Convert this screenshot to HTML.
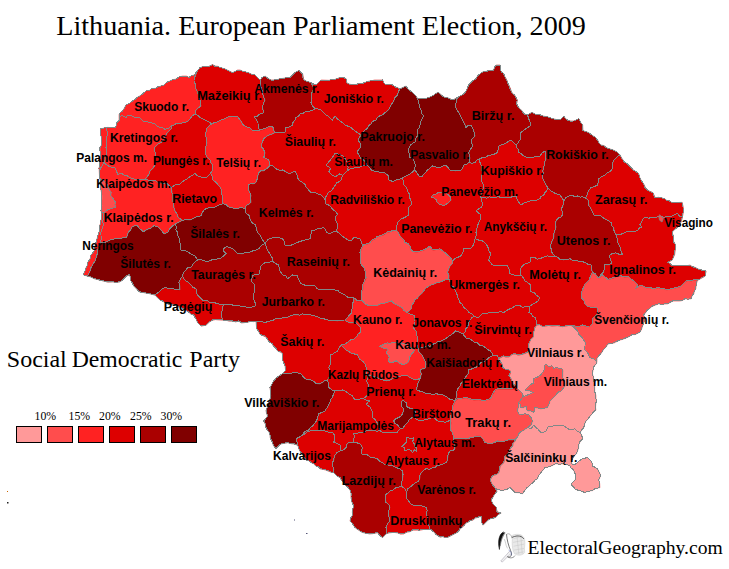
<!DOCTYPE html>
<html><head><meta charset="utf-8"><title>Lithuania. European Parliament Election, 2009</title>
<style>
html,body{margin:0;padding:0;background:#fff;}
body{width:729px;height:569px;overflow:hidden;position:relative;font-family:"Liberation Serif",serif;}
svg{position:absolute;left:0;top:0;}
.lab text{font-family:"Liberation Sans",sans-serif;font-weight:bold;font-size:12.2px;fill:#000;}
.ser{font-family:"Liberation Serif",serif;fill:#000;}
</style></head><body>
<svg width="729" height="569" viewBox="0 0 729 569">
<rect width="729" height="569" fill="#fff"/>
<g><path fill="#ff9999" stroke="#ff9999" stroke-width="0.6" fill-rule="evenodd" d="M536.62,325.37 534.62,328.62 533.62,333.37 533.62,337.12 530.87,339.37 528.87,344.37 529.12,351.37 528.37,352.12 525.37,353.62 518.87,355.37 517.87,355.37 516.12,354.37 512.62,354.37 509.12,357.12 505.87,357.37 503.37,356.37 500.62,357.62 498.87,358.87 499.87,361.37 502.12,363.37 503.12,367.87 505.62,369.37 510.37,370.62 510.62,373.12 509.37,375.87 511.37,378.87 513.37,384.37 516.12,386.62 522.62,393.87 523.62,396.37 526.12,396.12 532.87,392.87 529.87,391.12 526.12,390.62 525.37,389.87 530.62,384.62 534.12,382.87 533.37,380.12 533.62,379.12 539.12,376.37 541.12,374.87 544.62,369.37 544.12,366.87 545.87,364.12 548.62,366.62 552.12,365.87 553.87,368.62 555.87,367.87 557.37,367.87 562.37,368.87 563.37,370.87 562.87,377.37 564.37,380.12 565.37,386.12 561.12,391.37 558.87,392.37 550.37,401.12 548.37,406.62 546.87,408.12 540.87,409.12 535.37,407.87 534.37,411.87 533.37,412.62 530.62,411.12 527.62,411.37 526.37,409.37 526.12,406.62 523.62,407.87 521.37,407.87 520.87,407.37 520.37,404.87 519.12,403.12 518.87,406.87 517.87,410.87 518.37,412.87 519.37,414.37 520.62,415.12 525.37,413.87 528.87,415.12 531.62,418.12 532.87,421.37 530.87,425.62 523.62,430.62 521.37,431.62 519.12,433.87 517.87,436.87 515.87,439.12 516.12,439.37 515.12,441.37 513.37,443.12 512.87,446.12 510.37,448.62 509.12,452.62 505.37,456.12 504.12,462.62 500.37,466.12 499.12,472.62 496.62,474.62 493.87,475.37 491.87,477.37 490.37,480.62 492.12,484.12 494.87,487.87 497.62,489.37 499.87,490.12 504.37,490.12 507.12,489.37 510.12,487.62 515.12,492.62 519.12,492.87 522.62,493.87 526.37,488.37 529.12,486.37 531.37,483.62 533.12,482.87 535.12,480.12 537.62,478.87 538.62,475.62 545.12,467.62 551.37,466.12 555.87,463.87 558.87,464.37 563.37,463.87 568.62,465.12 569.87,465.87 571.37,468.12 573.87,470.12 574.37,472.62 576.12,475.62 575.12,480.12 572.37,482.87 571.12,485.12 572.62,486.12 575.12,489.12 577.37,490.12 580.37,490.62 584.87,492.62 587.37,491.37 592.62,490.62 595.12,488.87 600.12,487.62 599.87,483.87 598.87,480.62 600.12,477.12 600.12,473.87 597.62,468.87 592.62,466.12 592.12,463.37 591.12,461.12 587.62,457.62 582.12,459.12 575.37,464.37 572.87,465.12 571.12,461.12 572.87,458.87 573.87,456.12 576.62,453.87 578.62,448.62 578.87,444.87 579.62,442.87 582.62,438.87 581.87,435.12 580.12,432.62 583.87,427.62 584.62,424.37 586.12,421.12 588.37,418.87 592.87,412.62 596.12,410.12 595.62,407.12 596.12,403.37 596.12,395.37 594.87,391.87 594.87,385.87 593.62,380.62 593.62,377.12 592.37,373.37 593.12,371.12 593.37,367.62 596.87,363.12 596.87,362.37 596.37,362.12 595.87,360.62 593.87,359.12 590.62,358.37 589.62,357.62 588.12,353.62 584.37,349.12 585.37,344.12 584.87,341.87 582.87,338.62 579.12,334.62 578.12,331.87 573.12,326.87 571.12,326.12 570.62,325.37 569.12,325.37 563.62,326.87 557.37,325.87 552.12,326.37 549.62,325.62 545.62,326.37 542.12,326.37 539.62,324.87Z"/><path fill="#ff4d4d" stroke="#ff4d4d" stroke-width="0.6" fill-rule="evenodd" d="M562.12,368.87 555.87,368.12 553.87,368.87 552.12,366.12 548.62,366.87 545.87,364.37 544.37,366.87 544.87,369.37 541.37,374.87 539.12,376.62 533.62,379.37 534.37,382.87 530.62,384.87 525.62,389.87 526.12,390.37 529.87,390.87 533.12,392.87 526.12,396.37 523.62,396.62 522.37,393.87 517.87,389.12 497.87,389.12 495.12,390.12 491.62,396.37 491.12,398.37 490.37,399.12 487.37,399.62 485.62,400.62 478.62,399.87 473.87,400.12 467.12,397.87 459.87,398.37 457.62,399.12 455.37,400.87 453.12,405.87 450.37,420.37 451.12,422.87 450.62,426.12 450.87,429.37 452.87,433.62 454.12,438.87 460.37,438.37 466.12,439.12 468.87,438.12 472.87,437.62 475.87,436.12 480.12,436.12 483.62,439.87 485.12,442.62 489.87,443.87 492.87,443.37 497.37,441.12 505.37,441.12 508.37,440.12 512.87,440.12 516.12,438.87 517.62,436.87 518.87,433.87 521.37,431.37 523.62,430.37 531.12,425.12 532.62,421.37 531.37,418.12 528.87,415.37 525.37,414.12 520.12,415.37 518.12,412.87 517.62,410.87 518.62,406.87 518.87,403.12 519.12,402.87 520.62,404.87 521.37,407.62 523.62,407.62 526.12,406.37 526.62,409.37 527.62,411.12 530.62,410.87 533.37,412.37 534.12,411.87 534.87,408.12 535.37,407.62 540.87,408.87 547.37,407.62 548.12,406.62 550.12,401.12 558.87,392.12 561.12,391.12 565.12,386.12 564.12,380.12 562.62,377.37 563.12,370.87ZM380.12,346.37 383.62,348.37 387.87,349.37 386.87,353.37 389.62,357.37 388.62,361.87 392.37,362.87 396.12,360.87 399.62,363.37 403.62,364.62 406.62,363.62 408.62,361.87 409.87,356.62 414.37,350.87 410.12,347.12 404.62,344.12 402.37,343.37 398.87,343.87 394.37,342.62 392.62,342.62 390.62,343.62 386.37,343.37 384.62,343.62 382.62,345.37ZM571.12,325.87 573.12,326.62 578.37,331.87 579.37,334.62 583.12,338.62 585.12,341.87 585.62,344.12 584.62,349.12 588.37,353.62 589.87,357.62 593.87,358.87 596.12,360.62 596.87,362.12 597.12,358.12 600.87,353.87 603.87,349.12 606.37,346.87 607.62,344.37 610.37,343.37 613.87,343.12 619.62,340.12 622.87,339.37 628.12,337.12 632.37,334.62 635.12,334.62 640.12,332.12 641.62,329.12 643.62,323.12 645.12,320.37 643.87,315.12 647.12,310.62 651.87,306.62 658.62,303.87 661.12,304.37 667.62,303.87 672.62,301.12 679.62,301.12 681.87,300.62 685.12,298.87 691.12,298.87 692.12,295.87 693.87,293.87 694.37,291.12 695.87,288.62 696.37,283.87 697.62,280.37 693.87,280.12 691.37,281.12 687.87,280.62 685.87,281.62 682.37,285.12 679.37,287.12 669.62,289.62 665.87,289.87 663.62,288.62 660.62,288.62 658.37,287.87 655.12,288.87 649.87,287.87 646.12,287.87 642.62,285.87 639.37,285.87 636.37,288.12 636.12,287.62 637.37,284.87 633.87,281.12 631.12,279.37 628.62,276.87 624.62,277.12 620.87,276.12 617.12,276.37 614.37,277.87 608.12,279.62 602.62,275.37 598.62,278.37 595.37,274.12 592.62,272.87 590.87,276.12 589.37,280.37 585.37,283.87 583.87,286.87 581.37,293.87 581.37,297.87 583.87,300.37 585.37,304.12 587.12,306.12 589.87,307.12 593.62,307.12 597.37,308.37 598.12,311.12 597.37,314.37 593.12,318.12 593.12,323.12 590.12,326.37 585.87,326.37 582.37,325.37 579.62,326.62 577.87,326.87 572.62,325.62ZM396.12,230.12 395.37,230.62 387.12,232.37 384.87,234.37 382.87,235.37 379.37,236.12 376.87,237.37 375.12,239.12 372.12,240.37 369.87,243.12 367.87,244.12 364.62,244.62 362.62,246.37 361.37,248.87 360.37,252.37 360.62,262.37 362.12,265.62 364.12,267.87 365.37,270.62 365.62,275.12 366.37,277.37 362.87,284.87 362.87,289.37 361.37,292.37 361.37,300.37 363.12,301.37 365.62,304.37 368.87,305.62 372.62,305.12 374.87,305.87 379.12,304.87 381.37,303.62 386.87,302.87 391.37,300.87 394.12,303.87 396.37,304.62 402.37,307.87 403.87,310.62 407.12,312.62 411.12,308.87 411.87,305.37 413.62,303.12 414.87,300.12 417.87,298.12 418.62,296.37 421.87,293.62 425.87,288.12 431.87,284.62 435.37,283.87 437.62,282.62 440.87,282.12 448.87,278.62 449.12,275.62 447.62,272.37 450.12,266.12 452.37,263.62 452.62,261.37 451.12,258.62 444.87,252.62 440.87,249.62 439.62,249.12 432.62,250.37 430.12,246.37 426.62,248.87 419.62,251.62 415.87,252.37 412.62,251.37 410.62,249.37 409.62,245.62 408.12,243.87 405.62,243.12 404.87,242.37 404.12,240.37 401.12,237.87 398.37,232.62ZM99.87,178.87 100.87,182.87 100.37,187.87 102.12,195.37 102.12,199.62 101.62,201.37 102.12,205.62 101.12,211.12 101.62,213.12 104.12,212.87 106.62,210.62 112.37,208.12 115.87,207.62 115.12,205.37 115.62,202.37 110.87,195.87 111.12,192.62 109.87,190.87 108.37,186.87 106.62,183.87 103.87,181.12Z"/><path fill="#ff2222" stroke="#ff2222" stroke-width="0.6" fill-rule="evenodd" d="M354.12,298.12 352.87,304.62 352.62,308.87 351.37,313.87 348.62,316.12 347.87,317.87 345.37,320.37 349.87,323.12 356.12,323.12 360.37,327.37 361.37,332.12 358.12,334.12 357.12,336.62 354.12,339.37 350.87,340.12 347.37,343.12 344.62,344.62 341.87,345.12 341.62,345.62 346.37,350.37 350.62,353.12 354.37,353.87 357.87,355.37 359.62,359.12 362.87,361.37 365.37,364.37 366.87,370.37 366.37,374.12 369.12,375.37 371.62,375.87 386.37,381.12 389.87,380.37 393.12,378.37 396.12,378.37 398.37,376.62 403.37,375.37 406.87,375.37 409.12,377.12 415.37,380.12 419.87,378.62 420.62,377.62 421.37,374.62 420.37,369.87 425.12,368.37 426.12,363.62 421.62,354.62 418.87,351.62 417.62,346.12 416.62,343.87 417.87,340.87 417.62,337.62 416.62,335.12 416.62,332.12 413.62,328.37 414.62,325.12 414.12,322.87 414.12,318.37 414.62,315.62 410.62,314.62 407.37,312.62 406.12,312.37 403.62,310.62 402.37,308.12 396.37,304.87 394.12,304.12 391.37,301.12 386.87,303.12 381.37,303.87 379.12,305.12 375.62,306.12 372.62,305.37 368.87,305.87 365.12,304.37 363.62,302.12 361.12,300.12 360.62,300.62 357.62,301.37ZM379.87,346.37 382.62,345.12 384.62,343.37 390.62,343.37 392.62,342.37 396.37,342.62 398.87,343.62 402.37,343.12 404.62,343.87 410.12,346.87 414.62,350.87 410.12,356.62 408.87,361.87 406.62,363.87 403.62,364.87 400.62,364.12 396.12,361.12 392.37,363.12 388.62,362.12 388.37,361.37 389.37,357.37 386.62,353.37 387.62,349.37 383.62,348.62 380.12,346.87ZM431.62,196.87 431.62,197.37 433.12,197.62 435.87,199.37 436.62,200.37 437.12,202.37 439.12,204.12 441.87,205.12 445.62,204.87 447.87,203.37 451.12,200.12 450.37,197.37 446.37,193.37 444.62,192.62 439.12,192.37 436.62,194.12 433.37,195.37ZM230.12,116.37 224.37,119.37 220.62,120.37 217.12,122.37 214.37,122.87 209.62,125.37 206.37,129.12 205.87,135.87 207.37,143.12 206.87,145.12 205.37,147.62 205.37,151.87 206.37,155.62 207.62,158.12 210.37,160.37 210.87,162.37 212.87,165.37 212.87,170.12 210.87,173.62 212.62,176.62 212.87,179.87 217.12,183.62 220.62,187.87 221.87,190.37 221.87,193.87 222.87,195.87 222.62,200.37 223.37,203.87 226.12,204.62 228.87,207.12 234.12,208.37 237.62,208.62 240.37,207.62 244.87,208.37 246.62,205.37 248.87,204.37 251.12,202.37 250.62,199.62 251.12,195.62 248.87,190.62 248.12,185.12 250.62,183.62 253.12,184.12 255.12,183.12 257.12,179.87 258.62,172.87 260.62,171.12 263.62,171.12 268.37,167.62 270.12,165.12 268.87,160.37 263.87,157.87 265.12,152.87 263.37,149.37 261.12,146.37 262.37,142.12 263.87,138.87 266.62,136.37 268.87,135.12 272.12,134.37 274.87,132.87 274.87,132.37 274.12,131.37 273.62,128.87 272.12,126.37 268.87,126.87 263.37,129.62 260.12,130.37 259.62,130.12 257.87,130.87 255.62,131.12 252.12,130.37 250.37,128.37 246.87,127.37 243.87,125.87 238.12,117.37 235.87,116.87 232.37,117.12ZM196.12,72.87 194.12,75.12 191.87,75.62 189.12,77.62 186.37,76.12 182.37,76.12 179.62,76.87 176.12,79.12 173.12,79.62 167.12,82.37 163.62,85.37 158.12,86.87 155.62,88.37 152.12,88.62 149.62,90.37 146.12,91.12 141.87,94.87 137.37,97.37 130.37,103.12 125.87,105.37 122.87,110.87 119.12,114.12 119.12,120.62 117.12,122.62 116.87,125.12 115.37,127.62 111.62,127.87 107.87,127.37 100.62,128.87 100.62,134.62 101.62,137.37 101.62,144.12 101.12,146.12 100.12,147.62 100.62,154.62 100.12,156.37 99.62,166.12 99.12,167.62 99.62,178.37 103.87,180.87 106.87,183.87 108.12,185.87 109.37,189.37 111.37,192.62 111.12,195.87 115.87,202.37 115.37,205.37 116.12,207.62 112.37,208.37 108.12,210.12 104.12,213.12 101.62,213.37 101.62,217.62 100.87,223.12 99.87,225.12 99.37,232.37 97.12,238.37 96.87,241.37 95.37,244.12 94.62,250.62 91.12,255.12 90.62,257.87 87.87,262.37 87.62,265.12 86.12,267.62 85.87,269.62 84.37,272.62 83.87,275.12 87.62,276.12 90.37,270.87 90.87,268.12 94.62,262.12 96.87,256.62 97.87,249.37 99.62,245.87 100.37,243.12 105.12,242.37 110.12,240.12 116.87,238.37 120.37,238.62 126.62,237.12 128.37,232.62 130.87,229.87 131.87,227.62 134.37,226.12 137.12,225.62 138.12,226.12 140.37,229.12 143.62,231.62 151.12,228.12 154.37,225.62 158.62,227.12 164.62,234.12 168.37,231.87 169.62,229.12 172.62,226.12 175.37,224.12 182.62,220.62 178.37,217.62 177.62,215.12 175.62,212.12 174.12,208.62 173.87,205.37 172.87,201.87 173.12,197.37 172.12,195.12 172.12,191.37 171.12,187.87 167.62,184.37 163.62,184.12 160.37,182.87 157.62,182.87 154.87,180.62 148.12,180.62 145.87,180.12 145.37,179.12 149.62,173.62 150.12,171.12 152.87,168.62 155.12,165.12 154.62,158.62 155.62,153.87 154.62,151.62 154.62,147.62 157.87,144.37 160.87,142.87 163.87,139.62 167.37,132.87 171.12,128.87 171.12,126.12 176.12,123.87 177.87,124.12 180.87,123.12 185.37,122.62 187.87,121.37 190.37,118.87 191.87,116.62 195.12,114.12 196.12,110.12 201.12,106.12 200.12,103.37 200.12,100.37 198.87,98.12 198.87,95.37 197.62,93.12 197.12,90.87 195.12,87.87 195.12,83.87 194.12,81.62 194.12,78.37 195.87,75.12 196.37,73.37Z"/><path fill="#dd0000" stroke="#dd0000" stroke-width="0.6" fill-rule="evenodd" d="M256.12,321.37 256.62,328.62 258.62,331.12 260.12,334.37 265.62,336.87 266.87,338.12 268.62,341.12 272.37,343.87 273.12,345.62 276.12,348.62 277.62,350.87 282.12,352.87 282.62,355.12 282.62,359.62 285.12,365.37 285.62,370.62 283.62,372.87 283.62,373.62 290.37,373.87 292.37,372.87 296.62,372.62 300.62,373.62 305.12,378.87 307.37,379.87 311.37,380.12 313.87,381.37 316.12,383.87 319.87,384.12 322.37,382.87 324.62,380.87 327.62,380.12 328.87,384.12 329.12,387.87 331.87,389.87 335.12,391.37 333.87,393.87 333.12,397.12 331.12,399.37 329.62,404.12 325.62,410.87 318.87,414.37 316.87,421.12 313.37,425.62 310.62,427.87 308.87,430.37 304.12,432.62 302.37,435.62 296.37,439.12 297.62,442.37 297.62,445.37 298.87,447.62 299.37,450.12 300.62,452.12 303.37,454.87 303.87,456.87 305.87,459.87 308.62,460.62 311.37,462.62 313.62,463.62 315.87,466.12 318.12,466.62 320.12,468.87 325.37,469.87 330.87,472.12 333.62,472.62 333.87,469.37 332.62,466.62 332.62,462.62 333.87,460.37 334.12,457.37 336.12,453.87 337.37,452.62 340.37,450.87 343.12,450.12 346.12,447.62 346.87,444.62 348.87,442.62 353.87,442.37 360.12,443.87 362.87,447.87 361.37,453.87 367.62,455.12 371.12,457.62 377.12,458.62 379.87,461.62 382.62,462.62 384.62,464.37 393.12,465.87 396.62,467.87 399.37,468.62 402.87,471.37 403.37,473.87 402.87,480.12 401.37,482.62 401.37,486.12 399.12,487.62 396.12,487.87 393.37,490.12 390.12,491.37 387.87,493.62 385.37,495.12 386.37,502.87 388.87,504.62 390.37,507.62 388.87,510.62 389.12,516.87 390.37,521.12 387.87,523.62 386.37,527.37 386.37,533.87 389.12,532.87 393.62,532.37 397.87,532.87 400.62,534.12 403.87,533.87 406.87,532.12 410.12,531.62 412.62,530.12 420.12,530.12 425.62,529.12 429.87,529.12 429.62,526.87 427.37,522.12 427.12,516.12 426.12,513.62 427.37,510.62 426.12,507.87 420.37,505.37 412.62,505.37 410.37,503.62 406.62,498.62 406.12,493.37 407.87,488.62 409.87,487.62 415.12,483.12 418.87,481.12 419.87,478.62 420.12,475.12 421.37,472.87 424.12,469.87 426.12,468.87 429.87,469.37 432.62,467.62 435.37,467.37 437.37,465.12 440.37,465.12 446.12,462.62 447.62,460.37 448.12,454.62 450.12,451.12 453.12,450.62 455.12,448.87 455.12,445.87 453.62,443.12 453.87,438.62 453.37,435.87 450.62,429.37 450.37,426.12 450.87,422.87 450.12,420.37 450.62,416.62 451.87,412.62 452.62,406.62 455.12,401.12 451.62,399.62 449.62,399.37 446.37,396.87 442.12,394.62 439.12,395.12 436.62,393.87 432.87,394.87 429.62,393.87 426.12,393.87 424.12,392.37 421.12,392.12 417.12,390.37 416.62,389.37 418.62,381.62 420.12,378.87 415.37,380.37 409.12,377.37 406.87,375.62 403.37,375.62 398.37,376.87 396.12,378.62 393.12,378.62 389.87,380.62 386.37,381.37 366.37,374.37 366.12,373.12 366.62,370.37 365.37,364.87 362.87,361.62 359.37,359.12 357.62,355.37 354.37,354.12 350.62,353.37 346.37,350.62 341.37,345.62 341.87,344.87 344.62,344.37 347.37,342.87 350.87,339.87 354.12,339.12 356.87,336.62 357.87,334.12 361.12,332.12 360.12,327.37 356.12,323.37 349.87,323.37 345.12,320.37 340.87,320.37 337.87,321.37 328.62,320.62 325.37,319.87 323.12,318.37 319.87,318.37 317.37,316.87 309.62,314.87 305.12,314.87 302.87,314.12 300.12,315.37 292.87,315.37 287.37,317.87 274.87,319.37 272.87,321.12 269.62,321.37 265.37,322.87 262.12,321.87 258.62,322.12ZM403.12,400.37 406.37,402.87 406.87,406.12 407.62,407.62 412.62,408.87 416.12,412.62 414.62,415.87 408.87,420.37 407.87,422.62 405.12,425.37 403.12,428.62 402.37,429.12 399.87,428.12 397.37,425.12 395.37,424.12 393.87,421.12 395.87,418.87 400.87,416.37 402.62,413.87 403.87,409.12 401.62,406.87 401.12,403.62 402.37,400.62ZM155.37,295.12 156.12,296.37 160.12,300.12 162.87,301.12 164.62,302.62 167.37,303.87 171.37,304.87 175.12,305.12 177.12,306.87 180.37,307.12 188.12,311.62 190.62,313.87 193.37,314.87 196.37,319.37 197.62,322.62 201.12,326.12 206.12,325.12 210.12,321.37 212.62,320.12 215.37,319.62 222.62,320.12 221.62,317.12 221.12,312.62 222.62,310.37 222.62,307.12 223.87,305.37 217.37,304.12 214.12,302.62 210.12,302.87 207.87,301.37 204.87,301.12 202.62,300.37 197.62,295.37 196.37,292.37 196.12,289.12 193.12,287.62 188.62,282.87 186.37,281.62 183.62,278.62 182.62,276.37 179.12,282.37 180.37,286.37 180.37,289.87 179.87,290.37 173.12,289.12 168.62,288.87 165.12,287.87 162.62,289.12ZM618.12,156.37 613.87,160.62 612.37,165.37 612.87,168.87 610.37,171.62 607.62,173.12 604.87,175.62 601.12,177.37 599.12,178.87 598.87,181.87 597.87,185.12 594.37,187.12 591.12,187.87 588.12,192.12 587.12,195.62 585.87,198.37 588.62,200.87 589.37,206.12 591.12,208.62 594.12,215.12 597.62,215.12 600.62,215.87 608.62,220.87 611.62,223.37 611.87,225.87 614.12,227.87 614.37,230.87 617.62,239.12 618.12,243.12 620.87,248.37 621.37,251.87 622.37,253.87 622.12,254.62 618.62,254.37 616.12,253.37 612.62,253.62 609.12,256.12 610.87,259.62 611.87,263.37 608.37,265.37 604.62,265.37 604.87,268.62 604.12,271.62 600.62,275.37 599.62,277.37 602.62,275.12 608.37,279.37 614.37,277.62 617.12,276.12 620.87,275.87 624.62,276.87 628.62,276.62 631.12,279.12 633.87,280.87 637.62,284.87 636.37,287.87 639.37,285.62 642.62,285.62 646.12,287.62 649.87,287.62 654.37,288.62 658.37,287.62 660.62,288.37 663.62,288.37 665.87,289.62 667.37,289.62 679.37,286.87 682.37,284.87 685.87,281.37 687.87,280.37 691.37,280.87 693.87,279.87 697.87,280.12 704.87,276.37 706.12,271.12 703.12,270.87 700.62,269.62 698.12,269.12 695.12,267.37 692.37,266.87 690.12,265.12 684.37,266.12 677.62,265.62 672.62,266.12 670.37,263.62 667.87,262.62 672.12,260.12 674.62,254.62 675.62,246.87 675.12,244.37 673.62,241.37 673.12,235.62 672.12,232.12 675.37,228.87 677.87,227.37 679.87,225.37 682.12,218.62 683.37,211.87 683.12,206.87 682.12,202.37 675.12,202.62 672.62,203.12 669.62,201.12 667.12,200.87 665.12,199.12 662.37,198.12 658.62,197.37 655.12,197.62 652.87,192.62 647.62,190.37 645.12,187.62 644.62,185.62 640.87,179.87 639.62,177.37 639.12,174.87 637.87,172.87 633.37,170.12 627.12,163.62 625.37,162.87 622.12,158.87 620.12,155.37ZM311.37,82.87 314.12,88.87 311.37,94.87 312.12,98.62 311.37,103.12 312.87,106.12 315.12,109.12 310.37,111.37 307.37,111.37 305.62,111.87 303.12,113.87 300.12,114.12 298.87,116.37 296.37,117.62 295.37,120.12 293.37,122.62 292.87,125.12 289.37,127.37 286.37,127.87 285.62,131.87 284.87,132.87 275.12,132.87 272.12,134.62 267.87,135.87 264.87,138.12 263.37,140.37 261.37,145.87 265.37,152.87 264.12,157.87 269.12,160.37 270.12,164.87 270.62,165.37 273.62,166.37 276.12,168.87 279.12,170.37 282.87,170.12 286.37,171.87 288.87,173.87 295.12,171.12 297.12,174.62 297.87,178.12 299.12,180.62 304.62,183.87 306.62,187.62 311.12,192.62 314.87,192.37 318.12,194.12 320.62,194.87 322.37,196.12 325.37,200.12 326.12,203.87 329.87,205.87 337.37,213.62 337.62,214.62 336.37,216.12 335.37,218.87 337.87,225.12 337.87,228.12 336.37,231.37 338.62,232.62 341.62,235.62 345.62,238.62 350.87,241.12 353.87,237.62 360.12,238.87 361.87,242.12 362.87,245.87 364.62,244.37 367.87,243.87 369.87,242.87 372.12,240.12 375.12,238.87 376.87,237.12 379.37,235.87 382.87,235.12 384.87,234.12 387.12,232.12 389.37,231.87 396.12,229.87 398.62,232.62 401.37,237.87 404.37,240.37 405.12,242.37 408.12,243.62 409.87,245.62 410.87,249.37 412.62,251.12 415.87,252.12 419.62,251.37 424.62,249.62 430.12,246.12 432.62,250.12 440.12,248.87 444.87,252.37 451.37,258.62 452.87,261.37 452.62,263.62 450.37,266.12 447.87,272.37 449.37,275.62 449.12,278.62 448.37,279.37 445.37,280.12 440.87,282.37 437.62,282.87 435.37,284.12 431.87,284.87 425.87,288.37 422.12,293.62 418.87,296.37 418.12,298.12 415.12,300.12 413.87,303.12 412.12,305.37 411.37,308.87 407.62,312.87 410.62,314.37 414.87,315.62 414.37,318.37 414.37,322.87 414.87,325.12 413.87,328.37 416.87,332.12 416.87,335.12 418.12,339.62 418.12,340.87 416.87,343.87 418.62,349.12 421.12,347.87 425.12,347.37 427.12,346.12 430.62,346.12 432.87,344.37 435.87,343.37 438.12,341.62 440.62,341.62 446.37,338.62 448.62,336.37 453.87,333.12 455.87,330.87 462.87,333.87 466.12,338.12 470.37,339.12 474.12,342.12 477.12,342.87 479.37,345.12 482.37,345.87 485.12,347.37 487.62,349.62 490.37,350.87 493.12,354.87 492.62,355.87 488.37,358.37 486.12,360.87 479.62,363.87 477.87,366.87 471.62,369.37 468.37,369.62 468.12,374.37 463.37,381.87 461.12,384.12 460.12,386.37 457.62,389.37 456.87,391.87 457.37,395.37 455.62,400.62 458.12,398.62 466.12,397.62 473.87,399.87 478.62,399.62 485.62,400.37 487.37,399.37 489.87,399.12 490.87,398.37 491.87,395.37 493.37,393.37 494.87,390.12 497.87,388.87 517.62,389.12 515.87,386.62 513.12,384.37 511.12,378.87 509.12,375.87 510.37,373.12 510.12,370.62 505.62,369.62 502.87,367.87 501.87,363.37 499.62,361.37 498.62,358.87 503.37,356.12 505.87,357.12 509.12,356.87 512.62,354.12 516.12,354.12 517.87,355.12 518.87,355.12 525.37,353.37 528.87,351.37 528.62,344.37 530.62,339.37 533.37,337.12 533.37,333.37 534.37,328.62 536.62,325.12 539.62,324.62 542.12,326.12 545.62,326.12 548.62,325.37 552.12,326.12 557.37,325.62 562.62,326.62 570.62,325.12 578.87,326.62 582.37,325.12 585.87,326.12 590.12,326.12 592.87,323.12 592.87,318.12 597.12,314.37 597.87,311.62 597.12,308.37 593.62,307.37 589.87,307.37 587.12,306.37 585.12,304.12 583.62,300.37 581.12,297.87 581.12,293.87 583.62,286.87 585.12,283.87 589.12,280.37 590.62,276.12 592.62,272.62 591.62,269.37 591.12,265.37 587.87,264.62 584.62,262.62 581.87,261.87 577.37,261.37 575.62,260.62 572.62,260.87 570.12,259.12 563.37,260.37 560.37,259.62 557.37,257.37 555.12,256.37 552.62,254.12 551.62,252.12 551.12,248.62 550.12,246.62 552.37,240.37 553.87,237.62 554.12,233.37 556.12,227.12 555.62,224.87 556.12,221.12 558.12,218.37 560.62,217.37 562.62,215.12 562.37,211.62 561.12,208.87 562.87,206.62 563.87,201.37 562.37,198.37 560.12,195.37 556.62,194.37 551.37,191.62 547.87,188.12 543.62,180.87 542.62,178.12 543.12,170.37 544.87,162.12 546.12,159.12 545.37,156.62 545.87,153.62 545.12,151.37 542.12,153.12 540.12,156.37 535.87,156.62 532.87,157.87 526.37,157.62 523.87,156.37 521.12,153.87 518.87,152.62 518.37,149.87 516.62,147.87 516.12,145.37 511.12,140.37 504.62,144.37 499.37,146.12 498.87,146.87 498.12,151.37 496.12,154.12 492.62,154.62 490.62,155.62 488.12,156.12 485.37,157.62 482.62,157.87 476.87,160.37 474.62,163.12 471.87,163.62 468.87,162.87 466.62,164.87 464.12,165.37 463.12,167.87 461.12,170.37 457.87,170.37 455.37,171.37 450.87,170.62 449.12,169.37 446.12,165.37 443.62,166.12 440.37,167.87 435.87,167.37 432.62,166.37 428.12,169.87 422.12,176.62 419.87,177.12 414.62,170.37 409.87,174.62 404.62,176.87 402.37,178.62 392.37,181.87 388.87,179.87 388.12,175.62 385.62,173.62 372.12,171.12 370.12,168.37 366.87,165.12 365.62,162.37 363.12,159.87 360.62,158.62 357.12,152.12 360.62,146.87 360.87,143.87 358.12,140.87 358.12,140.37 360.87,135.37 364.87,130.37 367.62,128.37 368.62,126.12 371.37,123.62 372.87,121.37 376.12,120.12 377.87,117.37 382.62,114.87 388.37,110.37 391.62,104.12 393.62,101.62 395.12,97.37 397.62,95.12 398.37,92.12 399.87,88.87 394.62,86.62 392.62,85.12 390.12,84.62 386.12,85.12 383.62,82.62 382.62,80.12 374.62,80.12 368.37,81.37 362.37,83.62 358.12,83.87 354.62,85.12 347.62,83.87 346.37,81.62 346.12,78.87 343.62,77.62 339.87,77.62 333.87,79.87 328.62,80.37 321.12,80.12 317.37,84.12 315.37,85.12ZM431.37,196.87 433.37,195.12 436.62,193.87 439.12,192.12 444.62,192.37 446.37,193.12 450.62,197.37 451.37,200.12 447.87,203.62 445.62,205.12 441.87,205.37 439.62,204.62 436.87,202.37 436.12,199.87 434.12,198.37 431.62,197.62ZM255.12,75.12 252.62,74.87 248.62,72.87 243.12,71.62 240.12,70.12 237.62,70.12 234.87,71.87 232.37,72.62 224.62,68.87 219.87,67.62 217.62,66.37 214.87,66.12 212.62,64.62 207.87,66.87 202.87,66.87 200.12,67.62 196.37,72.62 196.62,73.37 196.12,75.12 194.37,78.37 194.37,81.62 195.37,83.87 195.37,87.87 196.87,89.87 197.87,93.12 199.12,95.37 199.12,98.12 200.37,100.37 200.37,103.37 201.37,106.12 196.37,110.12 195.37,114.12 192.62,116.12 187.87,121.62 185.37,122.87 180.87,123.37 177.87,124.37 176.12,124.12 171.12,126.37 171.37,128.87 167.62,132.87 164.12,139.62 160.87,143.12 157.87,144.62 154.87,147.62 154.87,151.62 155.87,153.87 154.87,158.62 155.37,165.12 153.12,168.62 150.37,171.12 149.87,173.62 145.62,179.62 148.12,180.37 154.87,180.37 157.62,182.62 160.37,182.62 163.62,183.87 167.62,184.12 171.37,187.87 172.37,191.37 172.37,195.12 173.37,197.37 173.12,201.87 174.12,205.37 174.37,208.62 175.87,212.12 177.87,215.12 178.62,217.62 182.87,220.37 185.37,219.87 190.12,220.12 197.12,216.62 200.87,216.12 202.87,211.87 204.12,210.12 205.87,208.87 209.87,207.62 213.12,207.62 215.12,207.12 218.37,205.12 222.62,204.12 223.12,203.62 222.37,200.37 222.62,195.87 221.62,193.87 221.62,190.37 220.37,187.87 216.87,183.62 212.62,179.87 212.37,176.62 210.62,173.87 212.62,170.12 212.62,165.37 211.12,163.37 210.12,160.37 207.37,158.12 206.12,155.62 205.12,151.87 205.12,147.62 206.62,145.12 207.12,143.12 205.62,135.87 206.12,129.12 209.62,125.12 214.37,122.62 217.12,122.12 220.62,120.12 224.37,119.12 230.37,116.12 232.37,116.87 235.87,116.62 238.12,117.12 240.87,120.62 243.87,125.62 246.87,127.12 250.37,128.12 252.12,130.12 255.62,130.87 259.37,130.12 258.12,127.37 258.12,123.37 256.37,119.87 254.37,117.37 254.87,116.87 257.37,116.37 259.87,114.12 263.12,112.87 263.37,110.12 262.12,106.87 265.12,100.37 263.37,96.62 262.37,91.12 260.62,86.12 260.12,80.12 258.12,78.62Z"/><path fill="#aa0000" stroke="#aa0000" stroke-width="0.6" fill-rule="evenodd" d="M348.87,442.87 347.12,444.62 346.37,447.62 343.62,450.12 340.37,451.12 337.37,452.87 335.37,455.12 334.37,457.37 334.12,460.37 332.87,462.62 332.87,466.62 334.12,469.37 333.87,472.62 336.87,475.87 340.12,477.62 341.12,479.87 343.62,482.62 344.87,484.87 348.62,488.12 350.37,490.62 351.12,493.37 351.12,498.12 352.37,503.12 353.87,506.37 352.37,511.87 352.62,515.12 350.62,518.62 350.12,521.12 352.37,523.12 353.12,524.87 355.62,528.12 362.12,532.37 369.37,533.87 373.12,533.62 377.62,532.62 379.37,535.12 382.62,537.62 386.12,533.87 386.12,527.37 387.62,523.62 390.12,521.12 389.12,518.62 388.62,510.62 390.12,507.62 388.62,504.62 386.12,502.87 385.12,495.12 387.87,493.37 390.12,491.12 393.37,489.87 396.12,487.62 399.12,487.37 401.12,486.12 401.12,482.62 402.62,480.12 402.62,476.37 403.12,474.62 402.62,471.37 399.37,468.87 396.62,468.12 393.12,466.12 384.62,464.62 382.62,462.87 379.87,461.87 377.12,458.87 371.12,457.87 367.62,455.37 361.37,454.12 361.37,451.87 362.62,447.87 360.12,444.12 353.87,442.62ZM515.87,439.37 512.87,440.37 508.37,440.37 503.12,441.62 497.37,441.37 492.87,443.62 489.87,444.12 485.12,442.87 483.37,439.87 480.12,436.37 475.87,436.37 472.87,437.87 468.87,438.37 466.12,439.37 460.37,438.62 454.12,439.12 453.87,443.12 455.37,445.87 455.37,448.87 453.12,450.87 450.12,451.37 448.37,454.62 447.87,460.37 446.62,462.37 440.37,465.37 437.37,465.37 435.37,467.62 432.62,467.87 429.87,469.62 426.12,469.12 424.12,470.12 421.62,472.87 420.37,475.12 420.12,478.62 419.12,481.12 415.12,483.37 409.87,487.87 407.87,488.87 406.37,493.37 406.87,498.62 410.62,503.62 412.62,505.12 420.37,505.12 426.37,507.87 427.62,510.62 426.37,513.62 427.37,516.12 427.37,520.12 428.12,523.87 429.87,526.87 430.12,529.12 433.62,531.62 436.12,534.62 440.12,537.12 442.62,536.62 445.12,537.37 448.37,537.12 458.62,531.62 459.87,529.12 463.62,526.12 465.87,523.12 468.62,521.87 470.12,520.62 472.87,520.12 475.62,517.87 477.37,517.62 480.87,516.12 481.87,518.87 481.87,522.37 483.12,525.12 488.37,519.87 490.62,518.62 493.62,518.12 496.12,517.12 498.12,514.62 501.12,513.12 497.12,511.87 496.12,507.12 492.87,503.87 491.12,500.37 493.87,495.37 497.12,491.12 491.87,484.12 490.12,480.12 491.62,477.37 493.87,475.12 496.12,474.62 498.87,472.62 500.12,466.12 503.87,462.62 505.12,456.12 508.87,452.62 510.12,448.62 512.62,446.12 513.12,443.12 514.87,441.37ZM270.12,165.37 268.37,167.87 263.62,171.37 260.62,171.37 258.87,172.87 257.37,179.87 256.12,182.37 255.12,183.37 253.12,184.37 250.62,183.87 248.37,185.12 249.12,190.62 251.37,195.62 250.87,197.87 251.37,202.37 248.87,204.62 246.62,205.62 245.12,208.37 246.12,213.37 249.87,216.37 250.62,220.87 255.87,225.37 256.87,228.12 257.37,231.62 258.37,233.62 260.87,236.12 262.12,239.37 265.12,243.87 262.62,244.87 260.62,246.62 258.87,249.12 256.37,250.37 252.37,251.37 249.62,252.87 245.12,252.87 242.37,254.37 238.87,254.12 236.87,253.12 235.37,251.12 233.12,249.37 227.12,246.87 223.37,249.12 224.37,251.62 226.12,253.87 221.62,258.12 218.62,258.87 216.37,260.12 212.87,259.87 208.37,261.62 204.87,261.37 201.87,260.12 197.62,260.37 194.62,262.62 191.12,267.62 187.62,268.12 186.62,269.87 183.87,272.37 182.87,276.62 183.87,278.62 186.37,281.37 188.62,282.62 193.12,287.37 196.37,289.12 196.62,292.37 197.87,295.37 202.62,300.12 204.87,300.87 207.87,301.12 210.12,302.62 214.12,302.37 217.37,303.87 221.37,304.37 224.12,305.37 222.87,307.12 222.87,310.37 221.37,312.62 221.62,315.87 222.87,320.12 226.62,320.37 229.12,321.12 233.12,321.12 235.62,321.87 238.62,321.12 241.62,322.87 247.12,322.37 250.37,321.37 253.87,321.62 255.62,321.12 258.62,321.87 262.12,321.62 265.37,322.62 269.62,321.12 272.87,320.87 274.87,319.12 287.37,317.62 292.87,315.12 300.12,315.12 302.37,313.87 305.12,314.62 309.62,314.62 317.37,316.62 319.87,318.12 323.12,318.12 325.37,319.62 328.62,320.37 337.87,321.12 340.87,320.12 345.12,320.12 347.62,317.87 348.37,316.12 351.12,313.87 352.37,308.87 352.62,304.62 354.12,297.87 357.62,301.12 360.62,300.37 361.12,299.87 361.12,292.37 362.62,289.37 362.62,284.87 366.12,277.62 365.37,275.12 365.12,270.62 363.87,267.87 361.87,265.62 360.62,263.12 360.12,260.87 360.12,252.37 361.12,248.87 362.62,246.12 361.62,242.12 360.12,239.12 353.87,237.87 351.12,241.37 345.62,238.87 341.62,235.87 338.62,232.87 336.12,231.37 337.62,228.12 337.62,225.12 335.12,218.87 336.12,216.12 337.37,214.62 337.12,213.62 329.87,206.12 325.87,203.87 325.12,200.12 322.37,196.37 321.12,195.37 314.87,192.62 311.12,192.87 306.37,187.62 304.87,184.37 298.87,180.62 297.62,178.12 296.87,174.62 295.12,171.37 288.87,174.12 286.37,172.12 282.87,170.37 279.12,170.62 276.12,169.12 273.62,166.62ZM299.12,70.62 295.12,72.62 290.12,77.62 281.12,78.62 275.62,80.12 271.12,80.12 268.12,78.62 265.12,76.12 262.37,77.62 260.37,79.87 260.87,86.12 262.62,91.12 263.62,96.62 265.37,100.37 262.37,106.87 263.62,110.12 263.37,112.87 262.62,113.62 259.87,114.37 257.37,116.62 254.62,117.37 256.62,119.87 258.37,123.37 258.37,127.37 259.87,130.12 263.37,129.37 268.87,126.62 272.12,126.12 273.87,128.87 274.12,130.62 275.12,132.62 284.87,132.62 286.12,127.87 289.37,127.12 292.37,125.37 293.12,122.62 295.12,120.12 296.12,117.62 298.87,116.12 300.12,113.87 303.12,113.62 305.62,111.62 307.37,111.12 310.37,111.12 314.87,109.12 312.62,106.12 311.12,103.12 311.87,99.37 311.12,94.87 313.87,88.87 311.12,82.62 307.37,81.87 303.62,79.62 302.62,73.87ZM482.12,72.37 477.37,76.37 475.87,79.12 470.37,82.87 467.62,87.62 467.12,90.12 465.87,91.87 462.37,95.12 457.37,97.87 457.62,98.62 455.37,105.87 457.12,110.12 460.12,114.37 461.12,117.12 465.87,125.87 466.12,127.37 468.12,125.87 471.12,125.12 474.12,131.12 475.37,136.12 471.37,140.12 472.87,146.12 469.12,152.37 470.37,158.62 469.12,162.62 471.87,163.37 474.62,162.87 476.87,160.12 482.62,157.62 485.37,157.37 488.12,155.87 489.87,155.62 492.62,154.37 496.12,153.87 497.87,151.37 498.62,146.87 499.37,145.87 504.62,144.12 511.12,140.12 516.37,145.37 516.87,147.87 518.62,149.87 519.12,152.62 521.12,153.62 523.87,156.12 526.37,157.37 532.87,157.62 535.87,156.37 540.12,156.12 541.62,153.37 545.12,151.12 546.12,153.62 545.62,156.62 546.37,159.12 545.12,162.12 543.37,170.37 542.87,178.12 543.87,180.87 548.12,188.12 551.37,191.37 556.62,194.12 560.12,195.12 562.62,198.37 564.12,201.37 563.12,206.62 561.37,208.87 562.62,211.62 562.87,215.12 560.62,217.62 558.12,218.62 556.12,221.87 555.87,224.87 556.37,227.12 554.37,233.37 554.12,237.62 550.37,245.87 551.37,248.62 551.87,252.12 552.87,254.12 555.12,256.12 557.37,257.12 559.87,259.12 562.37,260.12 570.12,258.87 572.62,260.62 575.62,260.37 577.37,261.12 581.87,261.62 584.62,262.37 587.87,264.37 591.12,265.12 592.62,272.37 595.37,273.87 598.62,278.12 600.37,275.37 603.87,271.62 604.62,268.62 604.37,265.37 608.37,265.12 611.62,263.37 610.62,259.62 608.87,256.12 612.62,253.37 616.12,253.12 618.62,254.12 622.12,254.37 621.12,251.87 620.62,248.37 617.87,243.12 617.37,239.12 614.12,230.87 613.87,227.87 611.62,225.87 611.37,223.37 608.62,221.12 600.62,216.12 597.62,215.37 594.12,215.37 590.87,208.62 589.12,206.12 588.37,200.87 585.62,198.37 586.87,195.62 587.87,192.12 590.87,187.87 594.37,186.87 597.62,185.12 598.62,181.87 598.87,178.87 601.12,177.12 604.87,175.37 611.62,170.12 612.62,168.87 612.12,165.37 613.87,160.12 618.12,156.12 620.12,155.12 616.12,151.62 612.12,149.62 608.87,148.87 606.37,147.62 603.87,145.62 601.12,145.12 598.87,142.87 597.62,140.12 595.12,137.12 592.37,135.62 588.62,132.62 585.12,131.62 582.87,130.37 582.62,125.12 580.37,122.12 578.87,118.87 574.12,121.12 570.62,121.12 568.12,120.37 565.37,118.62 563.87,116.12 560.12,120.12 552.37,118.87 546.62,116.62 542.62,116.12 540.37,114.87 537.37,115.12 534.62,114.12 532.62,112.62 530.12,113.37 527.62,115.12 523.87,113.87 522.37,111.12 519.37,108.37 517.37,105.62 516.62,103.62 517.37,100.12 514.87,95.37 512.87,93.87 511.62,92.12 509.37,86.12 507.62,82.87 506.87,80.12 504.62,76.37 503.87,73.87 502.12,72.62 500.12,70.12 500.12,65.12 496.12,65.12 494.37,67.87 494.12,69.62 493.12,70.37 488.62,70.87Z"/><path fill="#800000" stroke="#800000" stroke-width="0.6" fill-rule="evenodd" d="M403.12,400.62 402.62,400.62 401.37,403.62 401.87,406.87 404.12,409.12 402.87,413.87 400.87,416.62 395.87,419.12 394.12,421.12 395.37,423.87 397.37,424.87 399.87,427.87 402.37,428.87 404.87,425.37 407.62,422.62 408.62,420.37 413.62,416.62 415.87,413.12 415.87,412.62 412.62,409.12 407.62,407.87 406.62,406.12 406.12,402.87ZM327.62,380.37 324.62,381.12 322.37,383.12 319.87,384.37 316.12,384.12 313.87,381.62 311.37,380.37 307.37,380.12 305.12,379.12 301.12,374.12 296.62,372.87 292.37,373.12 290.37,374.12 283.12,373.62 278.12,376.62 274.37,380.37 270.12,387.62 271.12,395.62 269.12,402.12 267.37,405.12 267.37,407.87 266.12,410.12 266.37,412.37 267.62,416.12 263.87,421.37 265.62,424.62 266.12,427.62 269.37,432.62 270.12,434.87 270.37,437.87 272.87,443.12 273.37,445.37 276.12,448.87 277.87,446.62 281.12,443.87 287.87,442.62 290.87,443.62 294.12,443.87 297.37,445.12 297.37,442.37 296.12,439.12 302.37,435.37 304.12,432.37 308.87,430.12 310.37,427.87 313.12,425.62 316.62,421.12 318.62,414.37 319.37,413.62 325.37,410.87 329.37,404.12 330.87,399.37 332.87,397.12 333.62,393.87 334.87,391.62 334.62,391.12 331.87,390.12 328.87,387.87 328.62,384.12ZM492.87,354.87 490.37,351.12 487.62,349.87 485.12,347.62 482.37,346.12 479.37,345.37 477.12,343.12 474.12,342.37 470.37,339.37 466.12,338.37 462.87,334.12 455.62,331.12 453.87,333.37 448.62,336.62 446.37,338.87 440.62,341.87 438.12,341.87 435.87,343.62 432.87,344.62 430.62,346.37 427.12,346.37 425.12,347.62 421.12,348.12 418.62,349.37 419.37,352.12 421.87,354.62 423.37,357.12 426.37,364.12 425.37,368.37 424.37,369.12 420.62,369.87 421.62,374.62 420.87,377.62 418.37,383.12 416.87,389.87 421.12,391.87 424.12,392.12 426.12,393.62 429.62,393.62 432.87,394.62 436.62,393.62 439.12,394.87 442.12,394.37 446.37,396.62 449.62,399.12 451.62,399.37 455.12,400.87 457.12,395.37 456.62,391.87 457.37,389.37 459.87,386.37 460.87,384.12 463.12,381.87 467.87,374.37 468.12,369.62 471.62,369.12 477.87,366.62 479.62,363.62 486.12,360.62 488.37,358.12 490.62,357.12 492.62,355.62ZM264.87,243.62 261.87,239.37 260.62,236.12 258.12,233.62 257.12,231.62 256.62,228.12 255.62,225.37 253.37,223.87 250.37,220.87 249.62,216.37 245.87,213.37 245.12,208.62 241.37,207.87 237.62,208.87 234.12,208.62 228.87,207.37 226.12,204.87 223.12,203.87 222.62,204.37 218.37,205.37 215.12,207.37 213.12,207.87 209.87,207.87 205.87,209.12 204.62,209.87 203.12,211.87 201.62,215.62 200.87,216.37 197.12,216.87 190.12,220.37 185.37,220.12 182.87,220.62 175.37,224.37 169.87,229.12 168.37,232.12 164.62,234.37 160.12,229.62 158.62,227.37 154.37,225.87 151.12,228.37 143.62,231.87 140.37,229.37 137.87,226.12 137.12,225.87 134.37,226.37 132.12,227.62 131.12,229.87 128.62,232.62 127.37,236.62 126.62,237.37 120.37,238.87 116.87,238.62 110.12,240.37 105.12,242.62 100.37,243.37 99.87,245.87 98.12,249.37 97.12,256.62 96.12,258.37 95.62,260.62 91.87,266.62 90.62,270.87 87.87,276.12 91.37,277.12 94.12,278.62 107.87,282.12 112.87,281.87 116.62,282.37 119.62,281.87 121.12,281.12 126.87,275.87 129.37,274.87 130.62,277.37 130.87,280.62 132.37,282.62 133.87,286.12 139.37,291.87 148.37,293.37 155.12,295.12 162.62,288.87 165.12,287.62 168.62,288.62 173.12,288.87 179.87,290.12 180.12,286.37 178.87,282.37 182.87,275.62 183.62,272.37 186.37,269.87 187.62,267.87 191.12,267.37 194.37,262.62 197.62,260.12 201.87,259.87 204.87,261.12 208.37,261.37 212.87,259.62 216.37,259.87 218.62,258.62 221.12,258.12 223.62,256.37 225.87,253.87 224.12,251.62 223.12,249.12 227.12,246.62 233.12,249.12 234.87,250.37 236.87,252.87 238.87,253.87 242.37,254.12 245.12,252.62 249.62,252.62 252.37,251.12 256.37,250.12 258.87,248.87 260.37,246.62 262.62,244.62 264.62,244.12ZM358.37,140.37 358.37,140.87 361.12,143.87 360.87,146.87 359.87,148.87 357.37,152.37 360.87,158.62 363.12,159.62 365.87,162.37 367.12,165.12 370.37,168.37 372.12,170.87 385.62,173.37 388.37,175.62 389.12,179.87 392.87,181.62 396.87,179.87 402.37,178.37 404.62,176.62 409.87,174.37 414.62,170.12 419.87,176.87 422.12,176.37 428.12,169.62 432.62,166.12 435.87,167.12 440.37,167.62 443.62,165.87 446.12,165.12 450.12,170.12 454.62,171.12 457.87,170.12 461.12,170.12 462.87,167.87 463.62,165.62 464.62,164.87 466.62,164.62 469.12,162.12 470.12,158.62 468.87,152.37 472.62,146.12 471.12,140.12 475.12,136.12 473.87,131.12 471.12,125.37 468.12,126.12 466.37,127.62 465.87,127.37 465.62,125.87 463.87,123.12 459.87,114.37 456.87,110.12 455.12,106.62 457.37,98.62 457.12,97.87 452.62,100.12 449.12,98.37 445.12,97.62 443.12,96.62 438.62,92.62 435.62,93.62 433.62,95.37 430.37,97.12 425.37,98.87 417.62,98.87 416.37,96.62 412.37,92.37 410.62,91.37 407.37,88.37 406.12,86.12 400.12,88.87 398.62,92.12 397.87,95.12 395.37,97.37 393.87,101.62 391.87,104.12 388.62,110.37 382.62,115.12 377.87,117.62 376.12,120.37 372.87,121.62 371.62,123.62 368.87,126.12 367.87,128.37 365.12,130.37 361.12,135.37Z"/></g>
<g fill="none" stroke="#808888" stroke-width="1" stroke-linejoin="round" shape-rendering="crispEdges"><polygon points="100.6,128.75 103.5,128.2 106,127.5 108.9,127.2 112,127.8 115.5,127.5 116.7,124.8 117,122.5 119,120.5 119,116.5 119,114 122.5,111 124,109 126,105 129.4,103.4 132.5,101 134.7,99.6 137.3,97.3 140,96 142.2,94.3 144,92.7 146,91 150,90 151.9,88.5 155.5,88.2 157.5,87 161.1,85.9 164,85 166.9,82.3 170,81 173.1,79.4 176,79 178.9,77.1 182.5,76 186,76.1 189,77.5 191.3,75.7 194,75 195.9,72.8 197.5,71 200,67.5 203.1,66.7 206,67 209.6,66.3 212.5,64.5 214.8,66.1 217.3,66.3 220,67.5 223.1,68.3 226,69.5 229.5,71.3 232.5,72.5 235.3,71.6 237.6,70.1 240,70 242.3,71.2 244.9,71.8 247.5,72.5 249.6,73.2 252.5,74.7 255,75 257.6,77.9 260,80 262,77.7 265,76 267.8,78.3 271,80 274,80 276.9,79.8 280,78.75 283.2,78.3 286.4,77.7 290,77.5 292.8,74.9 295,72.5 299,70.5 302.5,73.75 302.7,76.6 303.75,80 307.4,81.7 311,82.5 315,85 317.3,83.9 319.1,81.9 321,80 323.9,80.3 327,80.3 330,80 333.6,79.8 336.7,78.8 340,77.5 343.3,77.5 346,78.75 346.2,81.2 347.5,83.75 350.9,84.2 355,85 358.3,83.7 362,83.5 365,82.5 368.4,81.2 371.6,80.8 375,80 378.5,80.2 382.5,80 383.6,82.6 386,85 389.3,84.6 392.5,85 394.4,86.5 397.2,87.8 400,88.75 403.1,87.6 406,86 407.6,88.4 410.2,90.9 412.5,92.5 414.3,94.4 416.1,96.3 417.5,98.75 421.4,98.9 425,98.75 428.4,97.6 430.7,96.8 433.75,95 435.6,93.4 438.75,92.5 440.7,94.7 442.7,96.2 445,97.5 447.9,98 449.9,98.8 452.5,100 454.8,99 457.5,97.5 460.3,96 462.6,94.7 465,92.5 466.7,90.5 467.5,87.7 468.75,85 470.6,82.6 473.4,80.4 476,78.75 477.4,76.1 480,73.75 482.5,72.1 484.6,71.8 487.5,71 491,70.6 493.75,70 494.5,67.2 496,65 500,65 500,70 501.6,72 503.75,73.75 504.7,76.8 506.4,79.6 507.5,82.5 508.9,85.4 509.9,88.4 511,91 512.4,93.5 514.5,95.1 516,97.5 517.2,100.2 516.6,103.3 517.5,106 519.7,108.7 522.1,110.8 523.75,113.75 527.5,115 529.6,113.5 532.5,112.5 534.6,113.9 537.6,114.9 540.2,114.8 542.5,116 546.2,116.5 549.5,117.5 552.5,118.75 556.3,119.5 560,120 561.8,118.1 563.75,116 564.9,118.2 567.5,120 570.7,121.1 573.75,121 576.1,120 578.75,118.75 580.5,122.2 582.5,125 582.5,130 585.1,131.6 587.9,132.3 590,133.75 592.8,135.7 595.2,137.3 597.5,140 599.1,143.1 601,145 603.8,145.6 606.2,147.6 608.75,148.75 611.8,149.6 614.5,150.7 617.5,152.5 620,155 621.2,157.4 622.9,160.1 625,162.5 627.3,163.7 628.9,165.5 631,167.5 632.9,169.7 634.8,171 637.5,172.5 639,174.8 639.7,177.8 641,180 642.6,182.6 644.3,185.1 645,187.5 647.3,190 649.9,191.5 652.8,192.5 653.7,194.9 654.7,197.4 658,197.3 662,198 664.9,199 667,200.7 669.5,201 672.6,203 675.7,202.5 678.8,202.5 681.9,202.3 683,207.3 683.2,210.4 683,213.5 682.5,216 682,218.2 681,221 679.4,225.8 677.1,227.7 675,229 672,232 673.1,235.7 673.2,239.4 673.8,242 675,244.3 675.5,247.3 674.9,250.6 674.4,254.2 673.3,257.2 672,260 667.5,262.5 670.2,263.6 672.5,266 675.8,265.5 679.4,265.7 682.5,266 686,265.7 690,265 692.3,266.8 695.1,267.3 697.5,268.75 700.3,269.5 703.2,270.8 706,271 705,276 702.2,277.4 700.1,278.8 697.5,280 696.4,283 696,286 695.8,288.6 694.2,291 693.75,293.75 692,295.7 691,298.75 687.8,299.1 685,298.75 681.8,300.5 678.75,301 675.8,300.8 672.5,301 669.9,302.3 667.5,303.75 664.8,303.9 661.6,304.2 658.75,303.75 656,304.8 652.5,306 649.7,308.3 647.5,310 645.6,312.5 643.75,315 645,320 643.6,323.3 642.5,326 641.4,328.7 640,332 637.6,333.1 634.9,334.4 632.2,334.4 630,336 625.5,338 622.4,339.3 619,340.2 616.5,341.5 613.4,342.9 610.5,343.3 607.6,344.2 606.3,346.7 604,348.7 602.1,351.6 600.4,354 598.3,356.5 596.8,358.6 596.8,363 595,365 593.2,367.5 593,370.6 592.3,373.8 593.5,377.2 593.5,380 594.3,383.3 594.8,386.2 594.4,389.5 595,392.5 595.9,395.4 596,398.9 596,402.5 595.6,406.3 596,410 593.3,412 591,415 589.3,417.2 588,419.1 586,421 584.6,424.4 583.75,427.5 581.9,429.6 580,432.5 581.7,435 582.5,438.75 579.9,441.8 578.75,445 578.4,448.2 577.5,451 576.4,453.7 573.75,456 572.7,458.7 571,461 572.5,465 575.3,464.3 577.5,462.5 579.7,460.5 582.5,458.75 587.5,457.5 591,461 592.1,463.4 592.5,466 595.3,467.5 597.5,468.75 598.8,471.3 600,473.75 600,476.7 598.75,480 599.7,484 600,487.5 595,488.75 592.9,490.3 590,491 587.3,491.2 585,492.5 582.8,491.8 580,490.5 577.5,490 575.1,488.9 573,486.4 571,485 572.5,482.4 575,480 576,475 574.6,472.9 573.75,470 571.4,468.3 570,466 567.6,464.6 565.4,464.2 562.5,463.75 559.4,464.3 556,463.75 553.4,464.8 551,466 547.7,467 545,467.5 543.2,469.8 541,472.5 538.6,475.4 537.5,478.75 534.8,480.2 533.3,482.6 531,483.75 529.2,486.1 526.7,487.8 525,490 522.5,493.75 518.8,492.8 515,492.5 512.5,490 510,487.5 506.9,489.3 503.75,490 500,490 497.1,489 495,488 497,491 495.4,493.3 494.1,495.1 492.6,497.5 491,500 493,504 496,507 497,512 501,513 498.1,514.6 496,517 493.3,518.1 490.5,518.5 488,520 485.8,522.3 483,525 481.7,522.1 481.7,519.1 481,516 477.8,517.3 475,518 472.8,519.9 470.1,520.6 468,522 465.8,523.1 464,525.4 462,527 459.7,529 458.7,531.3 456,533 453.6,534.3 451,535.7 448,537 445.2,537.3 443,536.6 440,537 437.4,535.4 435.8,534.3 434,532 430,529 426.2,529 422.5,529.5 419.2,530.1 416.2,529.7 412.5,530 410.1,531.6 406.8,532.1 403.75,533.75 400.8,533.9 397.6,532.8 395,532.5 392.2,532.3 389.3,532.7 386,533.75 382.5,537.5 379.7,535.5 377.5,532.5 374,533.2 370,533.75 366.1,533.2 362.5,532.5 360,530.8 357.3,529.2 355,527.5 353.3,524.9 352.1,522.8 350,521 350.8,517.9 352.5,515 352.3,512.2 352.9,508.7 353.75,506 352.5,503.5 351.7,500.7 351,497.5 351.1,493.4 350,490 348,487.5 345,485 343.2,482.3 341.3,479.9 340,477.5 337.4,476.3 335.6,474.7 333.75,472.5 331.1,472 328.75,471 325.7,469.9 323.1,469.2 320,468.75 318,466.6 315.7,466 313.75,463.75 311.3,462.5 308.9,460.7 306,460 304.1,457.2 303.2,454.8 301,452.5 299.4,450.5 298.7,447.7 297.5,445 293.75,443.75 290.9,443.6 287.5,442.5 284.7,443.1 281,443.75 278.5,445.8 276,448.75 273.6,445.7 272.5,442.5 271.1,439.8 270.2,437.5 270,435 268.9,432.1 267.2,429.7 266,427.5 265.6,424.4 263.75,421 265.5,418.8 267.5,416 266.6,412.9 266,410 267.3,407.8 267.2,405.1 268.75,402.5 269.4,400.3 270.5,397.3 271,395 270.3,391.3 270,387.5 272,384.1 273.75,381 276.2,378 278.75,376 283,373.5 285.6,370.4 284.9,365.5 283.7,362.8 282.5,359.3 282.6,355.8 281.9,352.5 277.5,350.7 275.8,348.3 273.2,345.7 271.9,343.4 269.5,342 267.7,339.9 266.6,337.7 264.6,335.9 260.2,334.6 258.6,331.1 256.5,328.5 256.6,325 256,321 253.3,321.4 250.4,321.3 247.7,322.1 245,322.5 241.6,322.7 238.6,321 235.9,321.8 232.5,321 229.5,320.9 226,320.3 222.5,320 219.1,319.8 215.9,319.6 212.5,320 209.8,321.5 207.8,323.3 206,325 201,326 197.5,322.5 196.5,319.8 195,317.4 193.75,315 190.6,313.7 188.2,311.7 185,310 182.9,308.5 180.2,307 177.1,306.7 175,305 171.4,304.7 167.5,303.75 165.1,302.7 162.3,300.8 160,300 157.2,297.5 155,295 150,293.75 146.6,293.1 142.5,292.5 139.2,291.7 136,288 133.7,286 132.4,283 130.8,280.6 130.6,277.5 129.3,274.4 126.7,275.8 124.4,278 122.5,280 119.4,281.8 115.7,282.3 112,281.8 108.2,281.9 104.6,281.2 101.2,280.5 97.2,279.3 94.2,278.5 91,277 87.5,276 83.75,275 84.2,272.4 85.4,270.3 86.1,267.5 87.5,265 87.8,262.2 89.6,259.8 90.5,257.7 91,255 93,252.6 94.4,250.5 94.9,247.1 95.2,244.2 96.7,241.1 97.1,238.4 98,235.4 98.9,232.9 99.4,230.2 99.5,227.9 99.8,225.2 100.8,222.8 101,220 101.5,216.7 101.5,213 101,210.5 101.6,207.4 102,205 101.5,201.8 101.9,198.9 102,195.6 101.2,192.8 101,190 100.2,187.4 100.7,184.1 100.6,181.2 99.6,178 99.4,174.7 99.2,171 98.9,168.1 99.5,165.6 99.8,162.4 100,160 100.1,156.9 100.5,153.7 99.9,150.7 100,147.5 101,146 101.4,143.4 101.5,140 101.5,137.4 100.4,134.2 100.7,131.9"/><polyline points="106,127.5 107,131 107.5,135 106,139 107,142.5 106,147.5 107,151 106,156 105,160 103.75,162.5 102.5,165.6 101,167.5 99.2,171"/><polyline points="103.75,162.5 107.5,165.6 112,167.5 115,168 117,172.5 117.5,175 121,173 124,175 127.5,176 131,178 135,179.4 140,180 145,179.4"/><polyline points="145,179.4 147.5,176 149.5,173.5 150,171 152.5,168.75 155,165 154.4,160 154.7,157.1 155.6,153.75 154.5,151.1 154.4,147.5 157.5,144.4 161,142.5 163.4,139.8 165,137 167.5,132.5 171,128.75 171,126"/><polyline points="119,116.5 122.5,115.6 126,117.5 128,115 131.7,115.9 135,117.5 140,118 142,120.2 143.75,122 147.1,121.9 150,122.5 155,123.75 156.9,126.1 160,127.5 163.1,127.9 165,129.4 168.3,128.4 171,126 173.7,125.1 176,123.75 177.5,124 181.1,123.1 185,122.5 187.9,120.9 190,119 192.2,115.9 195,114"/><polyline points="197.5,71 196.3,73.1 195.4,75.6 194.1,78.4 194,81 195.1,83.8 195,87.5 196.7,89.9 197.5,92.5 198.8,95.3 198.7,97.6 200,100 200,102.8 201,106 198.4,107.7 196,110 195,114"/><polyline points="195,114 198,115.7 200,117.5 202.5,118.9 205,120 207.5,121.3 210,122.5 212,124"/><polyline points="212,124 214.2,122.4 217,122 220,120.2 224,119 227,117.6 230,116 232.6,116.8 235.2,116.4 238,117 240.3,120.1 242,123 243.8,125.6 247,127 250.2,128 252,130 256,130.7 259.5,130"/><polyline points="260,80 260.3,83.9 261,87.5 262.3,91 263,95 263.8,97.5 265,100 263.5,103.7 262,107 263.2,110.1 263,113 259.7,114 257.3,116.3 254,117 256.3,119.5 258,123 258.1,126.8 259.5,130"/><polyline points="259.5,130 262.9,129.2 266,128 268.7,126.6 272,126 273.6,128.4 274,131 275,132.5"/><polyline points="275,132.5 280,132.5 285,132.5 286,127.5 289.3,127 292.5,125 293,122.5 295,120 296.1,117.4 298.9,115.8 300,113.75 302.9,113.6 305.1,111.7 307.5,111 310,111 313,110 315,108.75"/><polyline points="315,108.75 312.4,105.8 311,102.5 311.8,98.7 311,95 312.3,91.7 313.75,88.75 312.6,85.6 311,82.5"/><polyline points="315,108.75 318,108.9 321,110 323.6,112.8 326,115 328.5,116.4 330.1,118.4 332.5,120 335,116 337,118.5 340,121 342.8,122.8 344.4,124.7 347.5,126 350.5,127.3 352.6,129 355,131 358.3,133.2 361,135"/><polyline points="361,135 362.9,132.7 365,130 367.2,128.6 368.8,125.7 371,123.75 372.7,121.3 376,120.1 377.5,117.5 380,115.7 382.6,114.7 385,112.5 388,110.4 390,107 391.7,103.8 393.75,101 395.1,97.3 397.5,95 398.5,91.5 400,88.75"/><polyline points="361,135 359,137.9 358,140.6 360.8,143.6 360.6,146.8 359.3,148.9 357,151.9 359.3,155.7 360.7,158.4 363,159.5 365.5,162 367,165"/><polyline points="367,165 369.8,167.8 372,170.8 375,171.2 377.8,171.7 380.4,172.3 385,173 388,175.3 388.7,179.8 392.5,181.4 397,179.8 399.8,179 402.3,178.3"/><polyline points="402.3,178.3 404.5,176.6 407.6,175.3 409.9,173.9 412.1,172.3 414.4,170"/><polyline points="417.5,98.75 418.8,101.8 419.1,104.5 419.5,107.4 421,110 421.8,113.5 423.75,116 422,119.2 420.7,122.1 420,125 419.8,127.5 417.5,129.8 417.5,132.5 417.5,135.6 415.6,138.9 415,142 412.4,143.4 410.6,145 408.9,148 408.4,151 409.3,154.1 409,157 411.5,157.6 413.7,160 415.2,164.7 415,167 414.4,170"/><polyline points="414.4,170 416.6,172.3 417.8,174.2 419.7,176.8 422.5,176 424.2,173.8 427.5,170 430.1,167.9 432.5,166 436.1,167.1 440,167.5 442.9,166 446,165 448.1,167.8 450,170 455,171 457.9,170 461,170 462.7,167.8 463.75,165 466.4,164.4 468.75,162.5"/><polyline points="457.5,97.5 456.6,100.5 455.9,103.3 455,106 456.6,109.2 458.75,112.5 460,114.6 461.3,117.8 462.5,120 463.4,122.3 465.2,125 466,127.5 467.9,125.8 471,125 472.5,127.9 473.75,131 475,136 473.1,137.7 471,140 471.7,143.4 472.5,146 470.6,149.1 468.75,152.5 469.4,155.8 470,158.75 468.75,162.5"/><polyline points="468.75,162.5 472.2,163.3 475,162.5 476.8,160.1 480,158.75 482.6,157.5 485.2,157.3 487.5,156 490.3,155.3 492.8,154.3 496,153.75 497.6,151.7 498.3,148.9 498.75,146 501.6,144.9 505,143.75 508.2,141.6 511,140 513.5,142.8 516,145"/><polyline points="516,145 518.1,142.6 520,140 520.3,136.3 521,132.5 523.1,130.8 526,128.75 528.5,127 531,125 529.8,121.7 528.75,118.75 527.5,115"/><polyline points="516,145 516.6,147.5 518.2,149.5 518.75,152.5 521.3,153.7 523.75,156 526.4,157.2 529.2,157.2 532.5,157.5 536.1,156.3 540,156 541.8,153.1 545,151 545.7,153.5 545.3,156 546,158.75 544.9,161.4 544.2,164.4 543.75,167.5 542.9,170.7 543.1,173.8 542.5,177.5 543.6,180.2 544.6,182.3 546,185 548,188"/><polyline points="548,188 551,191 553.2,192.3 556,193.75 560,195 562.2,198.1 563.75,201"/><polyline points="563.75,201 566,197.5 568.6,196.1 571,195 574.1,196.2 577.5,196 580.2,197.2 582.7,196.7 585.5,198"/><polyline points="620,155 617.8,156.2 616,158.1 613.75,160 612.7,163 612.1,165.6 612.5,168.75 610.4,171 607.2,172.9 605,175 601.5,176.7 598.75,178.75 598.5,181.6 597.5,185 594.7,186.5 591,187.5 589.3,189.9 587.5,192.5 586.8,195.5 585.5,198"/><polyline points="480,158.75 479.9,162.2 481,165 481.3,168.8 482.5,172.5 481.5,176.1 481,180 482.2,182.6 483.75,185 483,188.6 482.5,192.5 480.9,194.9 481,197.5"/><polyline points="481,197.5 484,197.6 486.7,198.2 489.5,196.9 492.5,197.5 495.7,197.6 498.5,196.6 501.6,197.9 505,197.5 507.8,197.2 510.4,197.3 513.3,196.5 516,196 517.3,199.6 518.9,202.4 521,205 523.9,202.9 526.9,202.2 530,201 533.3,200.4 536.7,200.1 540,198.75 541,196.4 543.8,195 545,192.5 546.8,190.8 548,188"/><polyline points="481,197.5 481.2,200.5 482.5,202.5 482.5,205.5 481,207.5 478.5,209.1 476,211 480,214 480.8,217.3 480,220 478.5,223.2 477.5,226 476.8,229.3 476,232.5 476.4,235.5 475,238.75"/><polyline points="212,124 209.6,125.1 207.7,127.1 206,129 206,131.9 205.5,135 206.3,138.4 207,142.5 206.6,144.9 205,147.5 205,151 206,155 207.6,157.9 210,160 210.8,162.4 212.5,165 212.5,170 210.5,173.5"/><polyline points="210.5,173.5 208.7,175 206.6,177.3 204.2,178 199.6,176.6 197.1,175.4 195,173.6 191.3,175.9 188.4,177.6 186,179.6 182.9,181.3 180,184 175,185 171,187.5"/><polyline points="145,179.4 148.6,180.2 152.5,180 155.4,180.5 157.5,182.5 160,182.5 163.7,183.8 167.5,184 171,187.5"/><polyline points="171,187.5 171.9,191.3 172.1,194.6 173,197.2 172.8,200.3 173.1,202.7 173.7,205.2 174,208.1 175.2,211.3 177.3,214.3 178.2,217.3 180.3,218.8 182.7,220.3"/><polyline points="182.7,220.3 178.2,222.6 175.2,224.1"/><polyline points="175.2,224.1 172.1,226.4 169.5,228.9 168.4,231.6 164.6,233.9 162.3,231.6 160.3,229.5 158.5,227.1 154,225.6 151,227.9 147.2,229.4 143.4,231.6 139.7,228.6 137.4,225.6 134.4,226 132.1,227.1 130.7,229.8 128.3,232.4 126.8,237 123.6,237.6 120,238.4 116.9,238.2 113.5,239.2 110.2,240 108,241 105.5,242.1 102.4,242.7 100,243"/><polyline points="101.5,213 104,212.8 103.3,215.5 103.1,218.8 102.8,221.5 103.2,224.8 102.9,227.2 101.5,230.3 100.9,232.7 101,235.4 101.3,239.1 100,243 99.4,245.8 98.3,248 97.5,250.5 97.3,252.9 96.7,256.2 95.8,258.4 95,261 93,264.3 91,267.5 90.3,270.6 88.9,273.4 87.5,276"/><polyline points="99.6,178 101.9,180.1 104,181 106.2,183.2 108,186 109.5,190 111.1,192.3 110.8,195.6 112.5,197.7 113.7,199.6 115.5,202 114.9,204.8 116,207.5 112.6,208 110,209 106.4,210.5 104,212.8"/><polyline points="210.5,173.5 212.2,176.2 212.5,179.6 216.3,182.7 218.2,185.2 220,187.2 221.5,190.1 221.5,193.2 222.4,195.8 222.3,199.3 223,203.8"/><polyline points="182.7,220.3 186,219.7 189.7,219.9 193.6,218.2 196.9,216.6 201,215.9 202,212.9 204.2,209.8 206.7,208.3 210.2,207.6 212.6,207.6 215.7,206.7 217.8,205.3 220,204.5 223,203.8"/><polyline points="223,203.8 226.1,204.6 228.3,206.8 231,207.5 234.4,208.3 237.3,208.4 240.4,207.6 245,208.3"/><polyline points="270,165 268.5,167.3 266,169 263.5,170.9 260.5,171 258.5,172.8 257.7,176.3 257,179.6 255.5,182.7 252.8,184 250.6,183.5 248,185 248.5,187.8 248.7,190.2 250.2,193.1 251,195.5 250.5,198.6 251,202.3 249.1,204.1 246.5,205.3 245,208.3"/><polyline points="275,132.5 271.9,134.2 268.75,135 266.3,136.6 263.75,138.75 262.3,142.2 261,146 263.2,148.9 265,152.5 263.75,157.5 266,158.7 268.75,160 270,165"/><polyline points="270,165 273.4,166.3 276,168.75 279.2,170.2 282.5,170 285.7,171.6 288.75,173.75 291.9,172.6 295,171 296.8,174.2 297.5,177.5 299.1,180.4 302.5,182.5 304.8,183.9 305.7,186.5 307.5,188.75 311,192.5 314.4,192.3 317.5,193.75 321,195 323.3,197.1 325,200"/><polyline points="325,200 326,196.5 327.3,194.2 329,192 331.7,190.5 333.6,187.4 335.4,185.1 336.6,182.9 339.1,181.7 341,179.8 342.7,175.3"/><polyline points="335,153.4 338.9,154.2 343,156 346,160 347.4,162.7 347.5,165 348.1,167.6 347.2,170.8 345,173 342.7,175.3 339.6,173.8 337.4,175.6 335,176.8 331.3,174.6 329,171.5 330.6,168.5 328.4,166.7 326,165.5 329,161.7 332,158 333.7,155.4 335,153.4"/><polyline points="347.2,170.8 349.8,169.1 352.5,168.5 356.2,167 359.2,167.3 362,166 367,165"/><polyline points="325,200 326,204 328.4,204.8 331,207 332.5,209 335.2,211.3 337.5,214 335.8,216.5 335,219 336.8,222.2 337.5,225 337.5,228 336,231"/><polyline points="245,208.3 245.7,212.9 249.5,215.9 250.2,220.4 252.9,223.3 255.5,225 256.4,227.9 257,231 258.3,233.5 260.6,235.8 261.6,238.5 263.5,241.2 265,243.75"/><polyline points="265,243.75 262.6,244.6 260.6,246.3 258.75,248.75 256.1,250.1 252.5,251 249.2,252.4 245,252.5 241.9,254 238.75,253.75 236.4,252.6 234.9,250.6 232.5,248.75 230.1,247.8 227,246.5 223,249 223.9,251.3 226,253.5 223.8,255.9 221,258 218.6,258.4 215.9,259.7 213,259.5 210.6,260.3 207.9,261.3 205,261 201.6,259.8 197.5,260"/><polyline points="175.2,224.1 176.5,226.6 175.8,229.7 177.6,232.3 177.5,235 178.8,237.6 179.6,240 180,242.5 180,246.1 181,250 183.3,250.5 186.7,251.1 188.75,252.5 191.9,254.5 195,256 197.5,260"/><polyline points="197.5,260 194.4,262.2 192.5,265 191,267.2 187.6,267.7 186,270 183.6,272.3 182.5,276"/><polyline points="182.5,276 180.6,279 178.75,282.5 179.9,286.2 180,290 176.6,289.4 172.5,288.75 168.7,288.6 165,287.5 162.5,288.8 160,291 157.7,293 155,295"/><polyline points="182.5,276 183.8,278.6 186,281 188.8,282.7 191,285 193,287.3 196,288.75 196.3,291.8 197.5,295 199.9,297.2 202.5,300 205,300.8 207.7,301 210,302.5 213.7,302.3 217.5,303.75 220.7,304.3 224,305"/><polyline points="224,305 222.4,307.1 222.6,310.3 221,312.5 221.4,316.4 222.5,320"/><polyline points="224,305 226.9,304.4 229.3,304.1 232.5,305 236,305.9 240,306 243.6,306.2 247.5,307.5 251.4,307.4 255,306 255.4,303.4 254.2,300.6 253.7,298 253.75,295 254.2,292.3 254.4,289.3 255,286 253.4,283.3 251,281 251.8,278.5 252.5,276 254.6,274.6 257.5,274.2 260,273.75 259.5,271.3 260.8,268.7 261,266 262.9,264.2 265,262.5 269,262.5 272.5,261"/><polyline points="265,243.75 266.3,246.9 267.5,250 269.3,252.9 271,256 272.4,258.2 272.5,261"/><polyline points="265,243.75 267.5,240 269.7,238.8 272.5,237.7 275,237.5 278.6,237.6 282.5,238.75 284.6,241.7 285,245 290,246 292.3,244.6 295.3,243.4 297.5,242.5 299.6,241.5 302.7,240.7 305,240 310,238.75 310.5,236.4 311.1,233.4 311,231 314.6,230.2 317.5,228.75 320.4,228.6 323.75,227.5 325.7,229.4 326.2,231.9 328.75,233.75 332.1,232.5 336,231"/><polyline points="336,231 338.7,232.7 341,235 343.2,236.8 346,238.75 348.4,240.1 351,241 353.75,237.5 356.8,237.9 360,238.75 361.6,242 362.5,246"/><polyline points="272.5,261 275.4,263.5 278.75,265 279.1,268 279.4,270 281,272.5 282.8,274.8 286,276 287.5,278.75 290.2,276.9 292.5,275 297.5,276 298.3,278.6 299.4,280.9 301,283.75 304.2,284.9 307.5,286 311.4,285.3 315,286 317,288.6 320,290 323.8,289.3 327.5,290 330.9,289.2 334.5,290 337.5,290 339.5,292.3 342.5,293.75 345,295 347.5,297.1 350,297.5 353.75,297.5"/><polyline points="353.75,297.5 357.5,301 361,300"/><polyline points="361,300 361,296.5 361,292.5 362.5,289.1 362.5,285 363.8,282.4 364.4,280.2 366,277.5 365.2,274.2 365,270.5 363.75,267.5 361.9,265.4 360.4,262.8 360,260 360.3,256.6 360,252.5 361,249 362.5,246"/><polyline points="362.5,246 364.4,244.3 367.4,243.7 370,242.5 372,239.9 375,238.75 376.8,236.9 379.4,235.8 382.5,235 384.9,233.7 386.9,232 390,231.5 393,230.5 396,230"/><polyline points="402.3,178.3 403.3,181 403,184.4 405.5,186.3 406.9,188.2 407.2,190.8 409,193.4 409,196.5 410.6,199.5 412,204 409,207 408.4,211.6 408.75,215 406.4,216.5 403.8,217.9 401,218.75 397.5,222.5 396.6,226.6 396,230"/><polyline points="396,230 398.3,232.3 400,236 401.6,237.9 404,240 405,242.5 407.9,243.5 410,246 410.5,249 412.5,251 415.9,251.9 420,251 423,250.1 426,248.75 430,246 432.5,250 435.9,249.6 440,248.75 442.5,250.8 445,252.5 448.75,256 450.8,258.1 452.5,261"/><polyline points="452.5,261 454.5,258.8 457.5,257.5 460.4,256.1 462.5,253.75 463.75,248.75 467,248.8 470,248.75 472.6,246.4 473.75,243.75 475,238.75"/><polyline points="475,238.75 477.3,239.4 480.1,240.9 482.5,241 485.5,243.4 487.5,246 488.4,248.5 489.3,251.7 491,253.75 489.7,256.7 488.75,260 490.3,262.3 492.5,265 496.2,265.1 500,266 503.7,265.3 507.5,266 508.9,268.6 509.9,270.9 510,273.75 512.8,274.6 516,276 521,275"/><polyline points="521,275 520.3,272.1 520,268.75 522.7,266 525,263.75 530,262.5 531,257.5 534.4,257.2 537.1,259.1 540,258.75 542.7,257.5 545.2,256.4 547.5,256 551.3,256.6 555,256"/><polyline points="563.75,201 563.4,203.4 562.7,206.6 561,208.75 562.3,211.5 562.5,215 560.6,217.3 557.9,218.2 556,221 555.4,224 556,226.7 555,230 554,233.5 553.75,237.5 552.2,240.4 551.4,242.8 550,246 551,248.5 551.5,251.4 552.5,253.75 555,256"/><polyline points="555,256 557.3,257 559.7,259.1 562.5,260 566.2,259.6 570,258.75 572.4,260.4 575.3,260.3 577.5,261 581.6,261.4 585,262.5 587.8,264.2 591,265 591.5,268.8 592.5,272.5"/><polyline points="585.5,198 587.9,200 588.75,202.5 589,205.8 591,208.75 592.6,211.8 593.75,215 597.3,215.1 601,216 603.7,218.1 606.3,219.6 608.75,221 611.3,222.9 611.6,225.6 613.75,227.5 613.9,230.3 614.8,232.5 616,235"/><polyline points="616,235 619.5,234.5 622.5,233.75 625.2,232.6 627.4,231.4 630,231.4 634.1,231.3 637.4,230.7 639,228.3 641.7,227 639.9,224.6 641.6,222 643,219 644.8,217.2 648.1,218.1 651.2,217.9 654.7,217.8 659,216.5 662,216.9 664.5,217.3 667,216.5 670.3,216.7 673.2,215.3 677.5,213.5 679.4,216 682.5,216"/><polyline points="616,235 617.3,238.9 617.8,242.5 619,245.3 620.5,248 621,251.3 622.3,254.2 618.8,254.1 615.8,252.9 612.4,253.3 608.8,256 610.6,259.2 611.5,263.2 608.3,264.9 604.3,265 604.4,268.3 603.4,272 600.6,275.1 598.5,278"/><polyline points="592.5,272.5 595.4,273.9 596.8,275.9 598.5,278"/><polyline points="598.5,278 602.6,275 605.2,277 608,279.3 611.1,278.3 614,277.5 617.1,276 620.5,275.7 622.9,276.4 625.5,276.7 628.6,276.6 630.8,278.8 633.9,281 637.5,284.7 635.7,288.3 639.3,285.6 642.5,285.6 646,287.6 649.2,287.4 651.8,288.1 654.7,288.6 657.9,287.4 660.8,288.3 663.5,288.2 665.8,289.5 668.9,289.2 672.5,288.5 676,287.4 679,286.8 681.1,285.8 683.2,283.8 685.4,281.5 687.7,280.2 691,280.7 693.9,279.7 697.5,280"/><polyline points="592.5,272.5 591.1,275 590,277.5 588.9,280.2 587,281.8 585,283.75 583.6,287 582.5,290 581,294 581,297.5 583.5,299.9 585,303.75 587.1,306 590,307 593.2,307.1 597,308 597.7,311.2 597,314.3 595.1,316.3 592.7,318 592.7,323 590,326 586,326.1 582.5,325 578.5,326.4 575,326 572.3,325.3 569.5,325"/><polyline points="569.5,325 566.3,325.7 562.9,326.4 560,326 556.5,325.4 552.5,326 548.9,325.3 545,326 542,326 539.6,324.6 536.5,325"/><polyline points="530,306 529.7,309.2 528.75,312.5 531.2,313.9 532.6,316.2 535,317.5 536.3,320.8 536.5,325"/><polyline points="521,275 523.4,277.8 525,281 528.3,283 531,285 530,290 531.3,291.9 534.5,292.7 536,295 540,297.5 538.3,300.7 536,302.5 532.7,304.1 530,306"/><polyline points="530,306 526,306.5 522.5,307.5 519.8,305.6 516,305 513.1,307.5 510,308.75 506.8,310.3 503.75,312.5 500.7,311.6 497.5,312.5 493.7,312.4 490,312.5 486.5,313.6 482.5,313.75 480.5,315.7 478.75,317.5 476.5,317.3 473.75,316"/><polyline points="473.75,316 471.7,313.5 468.75,312.5 467,309.7 463.75,307.5 462.6,304.6 460,302.5 458.4,299 457.5,296 456.6,293.1 455,290 453.9,287.3 451,285 449.8,281.6 448.75,278.75"/><polyline points="448.75,278.75 448.9,275.3 447.5,272.5 448.4,269.4 450,266 452.2,263.6 452.5,261"/><polyline points="448.75,278.75 445.5,279.7 442.5,281 440.4,281.9 437.4,282.4 435,283.75 432,284.5 428.75,286 425.6,288.3 423.75,291 421.2,293.9 418.75,296 417.4,298.3 414.9,299.5 413.75,302.5 411.7,305.3 411,308.75 408.9,310.9 407,312.4"/><polyline points="407,312.4 403.8,310.5 402.4,308 400,306.6 397.2,305.1 394.1,303.7 391.2,300.8 386.4,302.7 383.8,303.3 381.4,303.5 378.7,304.7 375.2,305.7 372.1,305.1 369,305.6 365,304 363.2,301.4 361,300"/><polyline points="353.75,297.5 353.2,301.5 352.5,305 352.2,308.2 351.7,310.8 351,313.75 348.6,315.7 347.3,317.9 345,320"/><polyline points="256,321 258.8,321.7 261.7,321.6 265,322.5 267.8,321.6 270.1,320.9 272.8,320.7 274.8,319 277.5,318.75 280.7,318.2 283.8,317.8 286.9,317.4 290,316 293.1,315 296.4,314.8 299.7,315.1 302.5,313.75 305.2,314.6 308.8,314.6 312,315.1 315,316 317.3,316.5 319.7,318 323,318.1 324.8,319.2 327.5,320 330.9,320.4 334.2,320.6 337.5,321 341.1,320.1 345,320"/><polyline points="345,320 347.2,321.7 350,323 353.1,322.9 356,323 357.9,325.1 360,327 361,332 357.8,334 356.7,336.5 354,339 350.7,339.8 347.5,342.5 344.6,344.2 341,345"/><polyline points="341,345 339.1,347.8 337.5,351 334.8,352.7 332.8,354 330,355 330.4,358.1 331,361 330.3,364 328.75,367.5 329.6,370.3 330,373.75 329.2,377 327.5,380"/><polyline points="283,373.5 286.6,373.5 290,373.75 292.6,372.8 296,372.5 301,373.75 303,376.6 305,378.75 307.6,379.7 311,380 313.8,381.3 316,383.75 319.4,383.9 322.5,382.5 324.5,380.7 327.5,380"/><polyline points="327.5,380 328.5,384.1 328.75,387.5 331.7,389.8 335,391"/><polyline points="341,345 343.2,347.5 346,350 348.6,351.4 350.6,353 354,353.8 357.4,355 359.3,358.8 363.2,361.7 365,364 366.1,367.5 366.6,370.5 366,373.75"/><polyline points="366,373.75 367.1,375.9 367.5,378.75 366.3,381 368,383.9 368.6,387.6 368,391.4 367,395 365.3,397.4 362.5,398.5"/><polyline points="335,391 338.4,390.8 342.5,390 345.8,391.3 348.75,393.75 352.5,396 355,400 359.1,399.2 362.5,398.5"/><polyline points="335,391 333.4,394 332.5,397.5 330.7,399.3 329.7,402.6 328.75,405 326.6,408.3 325,411 321.8,412.5 318.75,413.75 317.5,418 316.7,420.4 315,423 312.5,426 310.4,427.6 308.7,430 306,431 303.8,432.6 302.5,435"/><polyline points="302.5,435 299.6,437 296,438.75 297.2,442.2 297.5,445"/><polyline points="302.5,435 305,433.7 307.4,431.6 310,431 313.5,430.9 317.5,430 321.4,430 325,431 328.7,432.3 332.5,432.5 334.2,434.7 335,437.5 333.75,442.5 336.9,443.3 340,445 340.8,448.2 340,451"/><polyline points="340,451 336.9,452.7 335,455 334,457.6 333.7,460.3 332.5,462.5 332.6,466 333.7,469.3 333.75,472.5"/><polyline points="340,451 343.6,449.7 346,447.5 346.7,444.4 348.75,442.5 353.75,442.5"/><polyline points="353.75,442.5 352.9,439.9 354.5,436.7 353.75,433.75 357.3,433.2 360,432.5 363.7,432.7 366.5,430.7 370,431 373.2,430.3 376.6,431.3 380,430.6 378.5,427 377.7,423.8 375.8,420.3 373,417.8 372.8,414.8 372.4,412.5 371.6,409.9 370,407.2 366.3,404.2 368,402.2 370,400.4 366.4,400.2 362.5,398.5"/><polyline points="380,430.6 383.7,433 387.9,432.9 391.3,432 394.2,432.3 396.5,433 398.5,430.7 400.3,428.5 402.5,428.75"/><polyline points="414,416 416,419 418.5,420.1 421.3,420 424,420 427.1,419.2 430.5,418.2 433.75,417.5 437.5,421 441.3,421 445,422.5 447.4,421.6 450.3,420"/><polyline points="402.5,400 406,402.5 406.5,405.4 407.5,407.5 412.5,408.75 416,412.5 414,416 411.6,418 408.75,420 407.6,422.6 405,425 402.5,428.75 399.8,427.8 397.5,425 394.9,423.4 393.75,421 395.8,418.7 398.75,417.5 400.9,415.9 402.5,413.75 403.75,408.75 401.6,406.4 401,403.75 402.5,400"/><polyline points="366,373.75 369,375.3 372,376 374.4,377 377.3,377.8 380,379 383.2,380 386.4,381 390.3,380 393.1,378.3 396,378.2 398.2,376.6 401,376 403.5,375.2 406.7,375.3 409.1,376.9 411.6,378.2 415.4,380 417.8,379.3 420.3,378.2"/><polyline points="418.3,349 418.9,351.7 421.2,354 422.7,356.5 424.1,358.8 426,363.6 425,368.5 420.3,369.4 421.2,374.3 420.3,378.2"/><polyline points="407,312.4 410.6,314.3 414.5,315.3 414.1,319 414,322 414.4,324.7 413.5,327.9 416.4,331.7 416.4,334.4 417.4,337.5 417.8,340.5 416.4,343.3 417.5,346 418.3,349"/><polyline points="418.3,349 421.3,347.7 425,347.2 427.1,345.9 430.5,346.1 432.8,344.3 435.7,343.2 438.1,341.4 440.6,341.4 443.5,339.8 446.2,338.4 448.3,336.6 451.3,334.7 454.1,332.7 455.5,330.8 459.6,332.3 463,334"/><polyline points="473.75,316 471.5,318.2 469.3,320.7 468.6,324 467.5,326.8 465.7,328.8 465.2,331.5 463,334"/><polyline points="463,334 466,338 470.2,339 474,342 477,342.7 479.3,345 482.8,345.9 485.3,347.4 487.4,349.4 490.6,351 493,355"/><polyline points="493,355 490.8,356.7 488.3,358 486.3,360.3 483,362 479.6,363.4 477.8,366.4 474.7,367.8 471.2,369.1 468,369.3 468,373.8 466.4,375.9 465,378.3 462.7,382 460.9,383.8 459.6,386.6 457.6,388.8 456.6,392 457,395 455.9,398 455,401"/><polyline points="420.3,378.2 418.5,381.7 417.4,385 416.4,389.8 421.2,391.7 423.9,392.1 426.1,393.6 429,393.6 433.2,394.4 436.7,393.6 438.9,394.8 441.8,394.2 444.4,395.6 447.2,397.3 449.4,399 452.2,399.4 455,401"/><polyline points="493,355 497.4,355.7 498.5,358.7"/><polyline points="536.5,325 534.5,327.8 534,330.8 533.2,333.7 533.2,337 530.8,339.1 529.6,341.5 528.5,344.4 528.7,346.9 528.7,351.4 525,353.2 521.2,354.4 518,355 515.7,353.9 512.6,354 509,356.8 506,357 503.6,355.9 500.9,357.1 498.5,358.7"/><polyline points="498.5,358.7 499.6,361 501.8,363 502.7,367.5 505.4,369.3 509.9,370.2 510.3,372.7 509,375.6 510.8,377.9 511.7,381 512.9,383.9 515,385.5 518,389"/><polyline points="455,401 457.4,398.7 460,398.1 462.7,398 466.7,397.5 470.2,398.7 474.1,399.7 477.8,399.5 481.2,400 485.3,400.2 487.6,399.3 490.6,398.7 491.6,395.8 492.9,393.4 495.1,389.7 498,388.7 500.4,388.9 504.4,389 508,388.9 513,389 518,389"/><polyline points="518,389 520.6,391.7 522.3,393.5 523.3,396.2"/><polyline points="545.7,364 548.4,366.6 552,365.7 553.8,368.4 556.1,367.8 558.8,368.1 561.9,368.4 562.9,370.8 562.8,373.8 562.6,376.8 564,380 564.4,382.9 565,386 563.2,388.4 561,391 558.8,391.9 556.7,393.9 555,396 552.7,398.4 550,401 548.8,404.3 547.5,407.5 544.3,408.2 541,408.75 538.1,408.1 535,407.5 533.75,412.5 530.6,410.8 527.5,411 526.3,408.9 526,406 523.5,407.5 521,407.5 520.3,404.4 518.75,402.5 521.5,398.9 523.3,396.2 525.9,395.9 528.7,394.4 533.2,392.6 529.6,390.8 525,390 527.8,387.2 530.4,384.5 534,382.8 533.2,379.2 535.7,377.8 538.5,376.5 540.8,374.9 543,372 544.5,369.3 544,366.7 545.7,364"/><polyline points="518.75,402.5 518.4,406.5 517.5,410 518.3,413 520,415 525,413.75 528.75,415 531.2,417.7 532.5,421 531,425 527.5,427.5"/><polyline points="527.5,427.5 531,428.75 533.75,425 535.6,427.2 537.5,428.75 541,432.5 543.7,432.3 546,431 547.1,428.7 548.75,426 552.3,426.1 556,425 558.6,425.8 561.1,424.9 563.75,426 567.3,428 570,430 575,428.75 577.1,431 580,432.5"/><polyline points="527.5,427.5 523.75,430 521,431.4 518.75,433.75 517.8,436.3 516,438.75"/><polyline points="453.75,438.75 456.8,438.8 459.8,438.3 462.5,438.75 465.7,439 469,438.1 472.5,437.5 476.1,436 480,436 481.8,437.8 483.8,440.3 485,442.5 490,443.75 492.4,443.3 494.8,442.3 497.5,441 501.1,441.2 505,441 508.5,439.9 512.5,440 516,438.75"/><polyline points="455,401 453.5,404 452.4,406.8 452,410 451.6,413.6 450.6,416.7 450.3,420 450.7,423.1 450.3,426.7 450.8,430 452.2,432.7 453.2,435.8 453.75,438.75"/><polyline points="516,438.75 514.5,441.4 513,443.1 512.5,446 510.1,448.6 508.75,452.5 505,456 504.2,459.2 503.75,462.5 500,466 499.3,469.6 498.75,472.5 496.6,474.3 493.75,475 491.7,476.9 490,480 492,484 495,488"/><polyline points="569.5,325 573.1,326.4 575.3,329 577.9,331.4 578.9,334.3 582.5,338 585.2,342.4 585,345.8 584.3,348.7 586,351.1 587.9,353.2 589.7,357.7 593.2,358.6 595.7,360.3 596.8,363"/><polyline points="453.75,438.75 453.4,442.4 454.9,445.7 455,448.75 452.9,450.6 450,451 448.3,453.8 447.5,457.5 447.5,460.3 446,462.5 443.3,463.8 440,465 437.3,465 435.2,467.2 432.5,467.5 429.7,469.2 426.1,468.7 423.75,470 421.5,472.4 420,475 419.8,478.3 418.75,481 415.7,482.5 412.5,485 409.9,487.3 407.5,488.75 406.6,492.2 406,495"/><polyline points="406,495 406.6,498.3 408.75,501 410.5,503.5 412.5,505 416.6,505 420,505 422.7,506.2 426,507.5 427.2,510.6 426,513.1 427,516 427,518.3 427.3,521.4 428,524 429.5,526.5 430,529"/><polyline points="353.75,442.5 357.2,442.9 360,443.75 362.5,447.5 361.5,450.9 361,453.75 363.9,454.4 367.5,455 371,457.5 373.9,457.8 377.5,458.75 379.7,461.4 382.5,462.5 384.4,464.2 387.5,465 390.9,465.2 393.4,466 396,467.5 399.2,468.6 402.5,471 403.1,474.1 402.4,476.9 402.5,480 401,482.6 401,486"/><polyline points="401,486 405,488.75 406.3,491.6 406,495"/><polyline points="401,486 398.9,487.3 396,487.5 393.2,489.8 390,491 387.9,493 385,495 385.3,498.5 386,502.5 388.6,504.3 390,507.5 388.6,510.7 388.75,515 389.1,517.9 390,521 387.5,523.6 386,527.5 386.2,530.7 386,533.75"/><polyline points="406.3,437.4 408.2,437.4 410.9,439.1 413.7,437.4 413.7,439.9 412.6,441 414.2,443.7 414.2,445.9 416.7,448.1 416.7,451.4 414.2,449.8 412.6,452.5 410.4,450 407.6,449.5 406,451.2 404.6,450.3 404.6,448.1 401.3,446.2 403.2,445.7 405.2,443.2 406.5,442.4 406.3,437.4"/><polyline points="431,197 433.2,195 436,194 438.9,192.1 442,192 445.4,192.6 448,194.5 450.2,196.9 451,200 448,203 445,205 441.9,205 439,204 436.8,202 436,199.5 433.5,197.7 431,197"/><polyline points="379.6,346.2 382.6,345.1 384.5,343.3 387.7,342.9 390.3,343.3 392.7,342.2 396,342.4 399,343.4 402.1,342.9 405,344 408.2,345.7 411,347.5 414.5,350.5 412.5,353 409.6,356.9 408.6,361.7 406.4,363.6 403.8,364.6 400,363.6 396,360.7 392.2,362.7 388.3,361.7 389.3,356.9 386.4,353 387.4,349 383.5,348.2 379.6,346.2"/></g>
<polygon points="659.6,214.7 663.3,218.4 662,222 659.6,220.2 658.8,216.5" fill="#ff4d4d" stroke="#808888" stroke-width="0.8"/>
<rect x="7" y="491" width="1" height="1" fill="#c60"/><rect x="7" y="502" width="1.5" height="1.5" fill="#222"/><rect x="294" y="519.5" width="1" height="1" fill="#557"/><rect x="306" y="533" width="1.5" height="1" fill="#557"/>

<g class="lab"><text x="471.7" y="119.75" textLength="42.8" lengthAdjust="spacingAndGlyphs">Biržų r.</text><text x="360.2" y="140.5" textLength="64.8" lengthAdjust="spacingAndGlyphs">Pakruojo r.</text><text x="410.2" y="158.5" textLength="59.8" lengthAdjust="spacingAndGlyphs">Pasvalio r.</text><text x="546.2" y="158.75" textLength="62.55" lengthAdjust="spacingAndGlyphs">Rokiškio r.</text><text x="480.7" y="174.75" textLength="63.05" lengthAdjust="spacingAndGlyphs">Kupiškio r.</text><text x="441.2" y="195.5" textLength="77.05" lengthAdjust="spacingAndGlyphs">Panevėžio m.</text><text x="594.95" y="203.75" textLength="52.55" lengthAdjust="spacingAndGlyphs">Zarasų r.</text><text x="664.2" y="227" textLength="48.8" lengthAdjust="spacingAndGlyphs">Visagino</text><text x="401.2" y="232.5" textLength="71.3" lengthAdjust="spacingAndGlyphs">Panevėžio r.</text><text x="483.7" y="230.5" textLength="63.3" lengthAdjust="spacingAndGlyphs">Anykščių r.</text><text x="556.7" y="244.5" textLength="53.8" lengthAdjust="spacingAndGlyphs">Utenos r.</text><text x="609.2" y="273.75" textLength="66.8" lengthAdjust="spacingAndGlyphs">Ignalinos r.</text><text x="373.2" y="276.75" textLength="64" lengthAdjust="spacingAndGlyphs">Kėdainių r.</text><text x="529.2" y="278.75" textLength="51.8" lengthAdjust="spacingAndGlyphs">Molėtų r.</text><text x="449.2" y="289.25" textLength="70.8" lengthAdjust="spacingAndGlyphs">Ukmergės r.</text><text x="594.2" y="323.75" textLength="74.8" lengthAdjust="spacingAndGlyphs">Švenčionių r.</text><text x="412.2" y="326.6" textLength="60.3" lengthAdjust="spacingAndGlyphs">Jonavos r.</text><text x="474.2" y="333.75" textLength="57.8" lengthAdjust="spacingAndGlyphs">Širvintų r.</text><text x="352.95" y="323.75" textLength="49.55" lengthAdjust="spacingAndGlyphs">Kauno r.</text><text x="334.2" y="165.5" textLength="58.8" lengthAdjust="spacingAndGlyphs">Šiaulių m.</text><text x="330.2" y="204" textLength="74.8" lengthAdjust="spacingAndGlyphs">Radviliškio r.</text><text x="323.7" y="102.5" textLength="60.3" lengthAdjust="spacingAndGlyphs">Joniškio r.</text><text x="254.2" y="92.5" textLength="65.3" lengthAdjust="spacingAndGlyphs">Akmenės r.</text><text x="197.2" y="100" textLength="64.8" lengthAdjust="spacingAndGlyphs">Mažeikių r.</text><text x="284.7" y="146" textLength="51.3" lengthAdjust="spacingAndGlyphs">Šiaulių r.</text><text x="216.2" y="167" textLength="44.8" lengthAdjust="spacingAndGlyphs">Telšių r.</text><text x="134.2" y="111" textLength="54.8" lengthAdjust="spacingAndGlyphs">Skuodo r.</text><text x="109.95" y="142" textLength="68.05" lengthAdjust="spacingAndGlyphs">Kretingos r.</text><text x="76.2" y="162" textLength="70.8" lengthAdjust="spacingAndGlyphs">Palangos m.</text><text x="152.95" y="164.5" textLength="56.55" lengthAdjust="spacingAndGlyphs">Plungės r.</text><text x="96.2" y="187.5" textLength="74.8" lengthAdjust="spacingAndGlyphs">Klaipėdos m.</text><text x="172.2" y="202.5" textLength="44.8" lengthAdjust="spacingAndGlyphs">Rietavo</text><text x="103.7" y="221.5" textLength="70.05" lengthAdjust="spacingAndGlyphs">Klaipėdos r.</text><text x="190.2" y="237.5" textLength="49.8" lengthAdjust="spacingAndGlyphs">Šilalės r.</text><text x="82.2" y="250" textLength="51.55" lengthAdjust="spacingAndGlyphs">Neringos</text><text x="120.2" y="267.5" textLength="50.8" lengthAdjust="spacingAndGlyphs">Šilutės r.</text><text x="191.2" y="278.75" textLength="64.8" lengthAdjust="spacingAndGlyphs">Tauragės r.</text><text x="163.7" y="311" textLength="48.8" lengthAdjust="spacingAndGlyphs">Pagėgių</text><text x="258.7" y="216.5" textLength="55.05" lengthAdjust="spacingAndGlyphs">Kelmės r.</text><text x="286.7" y="265.5" textLength="63.3" lengthAdjust="spacingAndGlyphs">Raseinių r.</text><text x="261.7" y="305.5" textLength="63.3" lengthAdjust="spacingAndGlyphs">Jurbarko r.</text><text x="280.2" y="345.5" textLength="44.3" lengthAdjust="spacingAndGlyphs">Šakių r.</text><text x="327.95" y="378.5" textLength="70.8" lengthAdjust="spacingAndGlyphs">Kazlų Rūdos</text><text x="366.2" y="395.5" textLength="49.8" lengthAdjust="spacingAndGlyphs">Prienų r.</text><text x="244.2" y="406.5" textLength="75.3" lengthAdjust="spacingAndGlyphs">Vilkaviškio r.</text><text x="317.2" y="429.5" textLength="76.8" lengthAdjust="spacingAndGlyphs">Marijampolės</text><text x="272.95" y="459.5" textLength="58.05" lengthAdjust="spacingAndGlyphs">Kalvarijos</text><text x="395.2" y="348.5" textLength="55.8" lengthAdjust="spacingAndGlyphs">Kauno m.</text><text x="426.2" y="367" textLength="76.8" lengthAdjust="spacingAndGlyphs">Kaišiadorių r.</text><text x="527" y="356.5" textLength="57.3" lengthAdjust="spacingAndGlyphs">Vilniaus r.</text><text x="461.7" y="388" textLength="56.3" lengthAdjust="spacingAndGlyphs">Elektrėnų</text><text x="543.7" y="385.5" textLength="63.3" lengthAdjust="spacingAndGlyphs">Vilniaus m.</text><text x="412.2" y="417.5" textLength="48.8" lengthAdjust="spacingAndGlyphs">Birštono</text><text x="465.2" y="426.5" textLength="45.8" lengthAdjust="spacingAndGlyphs">Trakų r.</text><text x="414.2" y="446.5" textLength="60.8" lengthAdjust="spacingAndGlyphs">Alytaus m.</text><text x="385.2" y="465.25" textLength="54.8" lengthAdjust="spacingAndGlyphs">Alytaus r.</text><text x="505.2" y="461.5" textLength="72.3" lengthAdjust="spacingAndGlyphs">Šalčininkų r.</text><text x="417.2" y="494" textLength="58.8" lengthAdjust="spacingAndGlyphs">Varėnos r.</text><text x="390.2" y="525" textLength="72.3" lengthAdjust="spacingAndGlyphs">Druskininkų</text><text x="341.7" y="484.5" textLength="54.3" lengthAdjust="spacingAndGlyphs">Lazdijų r.</text></g>
<text class="ser" x="56.3" y="35" font-size="28.14">Lithuania. European Parliament Election, 2009</text>
<g class="ser" font-size="24"><text x="6.8" y="366.7">Social</text><text x="71.7" y="366.7" textLength="110.6" lengthAdjust="spacingAndGlyphs">Democratic</text><text x="189.3" y="366.7">Party</text></g>
<g class="ser" font-size="11.8">
<text x="34.5" y="419.5">10%</text><text x="68.5" y="419.5">15%</text><text x="99" y="419.5">20%</text><text x="130" y="419.5">25%</text><text x="160.5" y="419.5">30%</text>
</g>
<rect x="16.5" y="426.5" width="25" height="16" fill="#ff9999" stroke="#000" stroke-width="1"/><rect x="47.5" y="426.5" width="25" height="16" fill="#ff4d4d" stroke="#000" stroke-width="1"/><rect x="78.5" y="426.5" width="25" height="16" fill="#ff2222" stroke="#000" stroke-width="1"/><rect x="109.5" y="426.5" width="25" height="16" fill="#dd0000" stroke="#000" stroke-width="1"/><rect x="140.5" y="426.5" width="25" height="16" fill="#aa0000" stroke="#000" stroke-width="1"/><rect x="171.5" y="426.5" width="25" height="16" fill="#800000" stroke="#000" stroke-width="1"/>
<g transform="translate(490,525) scale(0.09606)" fill="none" stroke-linecap="round" stroke-linejoin="round">
<path d="M238,105 C290,85 350,100 360,150 C372,200 350,235 362,285 C340,318 290,322 255,300 C232,262 228,200 232,150 Z" fill="#e9e9e9" stroke="#cfcfcf" stroke-width="6"/>
<path d="M250,140 L330,120 M245,180 L345,160 M250,220 L350,200 M255,260 L350,245 M270,295 L345,280 M280,110 L300,300 M320,105 L335,295" stroke="#c4c4c4" stroke-width="5"/>
<path d="M135,75 C95,95 78,170 98,255 C104,200 112,130 150,82 Z" fill="#111" stroke="#111" stroke-width="6"/>
<path d="M155,85 C128,125 112,170 108,215" stroke="#555" stroke-width="6"/>
<path d="M172,100 C176,150 192,215 214,265 C226,292 230,310 212,328 C200,338 186,334 178,326" stroke="#333" stroke-width="7"/>
<path d="M150,150 C165,175 160,205 180,240" stroke="#9a9a9a" stroke-width="5"/>
<path d="M228,130 C262,112 322,100 350,142" stroke="#222" stroke-width="7"/>
<path d="M176,96 C190,84 214,90 226,124" stroke="#666" stroke-width="5"/>
<path d="M205,272 L112,375 L128,386 L214,300" fill="#f1f1f1" stroke="#9d96a6" stroke-width="5"/>
<path d="M182,330 C205,348 240,348 258,322" stroke="#444" stroke-width="6"/>
<path d="M196,262 C214,270 226,288 222,312" stroke="#3a4fb0" stroke-width="4"/>
</g>
<text class="ser" x="527.6" y="554.3" font-size="19.6">ElectoralGeography.com</text>
</svg>
</body></html>
